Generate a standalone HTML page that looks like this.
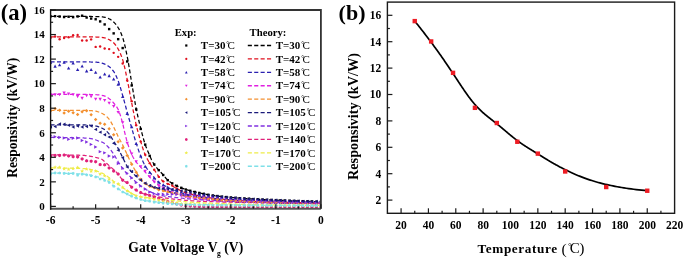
<!DOCTYPE html>
<html><head><meta charset="utf-8"><style>
html,body{margin:0;padding:0;background:#fff;width:685px;height:259px;overflow:hidden}
svg{display:block;filter:blur(0.35px)}
text{font-family:"Liberation Serif",serif}
</style></head><body>
<svg width="685" height="259" viewBox="0 0 685 259">
<rect width="685" height="259" fill="#fff"/>
<defs><clipPath id="ca"><rect x="50.6" y="10.0" width="270.29999999999995" height="198.8"/></clipPath></defs>
<g clip-path="url(#ca)">
<polyline points="50.60,16.38 51.28,16.38 51.95,16.38 52.63,16.38 53.31,16.38 53.99,16.38 54.66,16.38 55.34,16.38 56.02,16.38 56.70,16.38 57.37,16.38 58.05,16.38 58.73,16.38 59.41,16.38 60.08,16.38 60.76,16.38 61.44,16.38 62.12,16.38 62.79,16.38 63.47,16.38 64.15,16.38 64.83,16.38 65.50,16.38 66.18,16.38 66.86,16.38 67.54,16.38 68.21,16.38 68.89,16.38 69.57,16.38 70.25,16.38 70.92,16.38 71.60,16.38 72.28,16.38 72.96,16.38 73.63,16.38 74.31,16.38 74.99,16.38 75.67,16.38 76.34,16.38 77.02,16.38 77.70,16.38 78.38,16.38 79.05,16.38 79.73,16.38 80.41,16.38 81.08,16.38 81.76,16.38 82.44,16.38 83.12,16.38 83.79,16.38 84.47,16.38 85.15,16.38 85.83,16.38 86.50,16.38 87.18,16.38 87.86,16.39 88.54,16.40 89.21,16.42 89.89,16.44 90.57,16.46 91.25,16.48 91.92,16.50 92.60,16.53 93.28,16.55 93.96,16.58 94.63,16.60 95.31,16.62 95.99,16.64 96.67,16.65 97.34,16.67 98.02,16.68 98.70,16.70 99.38,16.72 100.05,16.75 100.73,16.78 101.41,16.83 102.09,16.89 102.76,16.97 103.44,17.06 104.12,17.16 104.80,17.27 105.47,17.41 106.15,17.61 106.83,17.84 107.51,18.10 108.18,18.39 108.86,18.70 109.54,19.02 110.22,19.40 110.89,19.83 111.57,20.30 112.25,20.82 112.92,21.38 113.60,21.97 114.28,22.61 114.96,23.32 115.63,24.11 116.31,24.96 116.99,25.89 117.67,26.88 118.34,27.95 119.02,29.12 119.70,30.40 120.38,31.82 121.05,33.36 121.73,35.03 122.41,36.85 123.09,38.85 123.76,41.17 124.44,43.78 125.12,46.63 125.80,49.67 126.47,52.84 127.15,56.11 127.83,59.60 128.51,63.43 129.18,67.50 129.86,71.71 130.54,75.95 131.22,80.11 131.89,84.10 132.57,88.09 133.25,92.12 133.93,96.12 134.60,100.03 135.28,103.81 135.96,107.38 136.64,110.72 137.31,113.92 137.99,117.00 138.67,119.97 139.35,122.84 140.02,125.62 140.70,128.33 141.38,131.00 142.05,133.63 142.73,136.20 143.41,138.67 144.09,141.02 144.76,143.21 145.44,145.22 146.12,147.07 146.80,148.79 147.47,150.43 148.15,152.01 148.83,153.56 149.51,155.11 150.18,156.70 150.86,158.32 151.54,159.86 152.22,161.24 152.89,162.42 153.57,163.51 154.25,164.53 154.93,165.50 155.60,166.41 156.28,167.29 156.96,168.12 157.64,168.93 158.31,169.72 158.99,170.49 159.67,171.20 160.35,171.87 161.02,172.54 161.70,173.24 162.38,174.00 163.06,174.80 163.73,175.62 164.41,176.44 165.09,177.24 165.77,178.01 166.44,178.73 167.12,179.37 167.80,179.98 168.48,180.55 169.15,181.11 169.83,181.64 170.51,182.15 171.18,182.64 171.86,183.10 172.54,183.54 173.22,183.96 173.89,184.36 174.57,184.73 175.25,185.10 175.93,185.44 176.60,185.78 177.28,186.10 177.96,186.41 178.64,186.71 179.31,187.01 179.99,187.30 180.67,187.58 181.35,187.85 182.02,188.12 182.70,188.38 183.38,188.63 184.06,188.87 184.73,189.10 185.41,189.32 186.09,189.53 186.77,189.73 187.44,189.94 188.12,190.14 188.80,190.33 189.48,190.52 190.15,190.71 190.83,190.89 191.51,191.07 192.19,191.25 192.86,191.42 193.54,191.59 194.22,191.75 194.90,191.92 195.57,192.08 196.25,192.23 196.93,192.39 197.61,192.54 198.28,192.69 198.96,192.83 199.64,192.98 200.32,193.12 200.99,193.26 201.67,193.40 202.35,193.54 203.02,193.68 203.70,193.82 204.38,193.96 205.06,194.09 205.73,194.23 206.41,194.36 207.09,194.49 207.77,194.61 208.44,194.74 209.12,194.86 209.80,194.98 210.48,195.10 211.15,195.21 211.83,195.32 212.51,195.43 213.19,195.54 213.86,195.64 214.54,195.73 215.22,195.83 215.90,195.92 216.57,196.00 217.25,196.09 217.93,196.16 218.61,196.24 219.28,196.32 219.96,196.39 220.64,196.47 221.32,196.54 221.99,196.61 222.67,196.68 223.35,196.75 224.03,196.82 224.70,196.89 225.38,196.95 226.06,197.02 226.74,197.08 227.41,197.15 228.09,197.21 228.77,197.27 229.45,197.33 230.12,197.39 230.80,197.45 231.48,197.51 232.15,197.57 232.83,197.62 233.51,197.68 234.19,197.73 234.86,197.79 235.54,197.84 236.22,197.89 236.90,197.94 237.57,198.00 238.25,198.05 238.93,198.10 239.61,198.15 240.28,198.19 240.96,198.24 241.64,198.29 242.32,198.34 242.99,198.38 243.67,198.43 244.35,198.47 245.03,198.52 245.70,198.56 246.38,198.61 247.06,198.65 247.74,198.69 248.41,198.74 249.09,198.78 249.77,198.82 250.45,198.86 251.12,198.90 251.80,198.94 252.48,198.98 253.16,199.02 253.83,199.06 254.51,199.10 255.19,199.14 255.87,199.18 256.54,199.22 257.22,199.26 257.90,199.29 258.58,199.33 259.25,199.37 259.93,199.40 260.61,199.44 261.28,199.47 261.96,199.51 262.64,199.54 263.32,199.58 263.99,199.61 264.67,199.64 265.35,199.67 266.03,199.71 266.70,199.74 267.38,199.77 268.06,199.80 268.74,199.83 269.41,199.86 270.09,199.89 270.77,199.92 271.45,199.95 272.12,199.98 272.80,200.01 273.48,200.04 274.16,200.07 274.83,200.10 275.51,200.13 276.19,200.16 276.87,200.19 277.54,200.21 278.22,200.24 278.90,200.27 279.58,200.30 280.25,200.32 280.93,200.35 281.61,200.38 282.29,200.41 282.96,200.43 283.64,200.46 284.32,200.49 285.00,200.51 285.67,200.54 286.35,200.57 287.03,200.59 287.71,200.62 288.38,200.65 289.06,200.67 289.74,200.70 290.42,200.72 291.09,200.75 291.77,200.78 292.45,200.80 293.12,200.83 293.80,200.85 294.48,200.88 295.16,200.90 295.83,200.93 296.51,200.95 297.19,200.98 297.87,201.00 298.54,201.02 299.22,201.05 299.90,201.07 300.58,201.10 301.25,201.12 301.93,201.14 302.61,201.17 303.29,201.19 303.96,201.21 304.64,201.24 305.32,201.26 306.00,201.28 306.67,201.30 307.35,201.33 308.03,201.35 308.71,201.37 309.38,201.39 310.06,201.41 310.74,201.44 311.42,201.46 312.09,201.48 312.77,201.50 313.45,201.52 314.13,201.54 314.80,201.56 315.48,201.58 316.16,201.60 316.84,201.62 317.51,201.64 318.19,201.66 318.87,201.68 319.55,201.70 320.22,201.72 320.90,201.74" fill="none" stroke="#000000" stroke-width="1.25" stroke-dasharray="4 2.4"/>
<polyline points="50.60,36.76 51.28,36.76 51.95,36.76 52.63,36.76 53.31,36.76 53.99,36.76 54.66,36.76 55.34,36.76 56.02,36.76 56.70,36.76 57.37,36.76 58.05,36.76 58.73,36.76 59.41,36.76 60.08,36.76 60.76,36.76 61.44,36.76 62.12,36.76 62.79,36.76 63.47,36.76 64.15,36.76 64.83,36.76 65.50,36.76 66.18,36.76 66.86,36.76 67.54,36.76 68.21,36.76 68.89,36.76 69.57,36.76 70.25,36.76 70.92,36.76 71.60,36.76 72.28,36.76 72.96,36.76 73.63,36.76 74.31,36.76 74.99,36.76 75.67,36.76 76.34,36.76 77.02,36.76 77.70,36.76 78.38,36.76 79.05,36.76 79.73,36.76 80.41,36.76 81.08,36.76 81.76,36.76 82.44,36.76 83.12,36.76 83.79,36.76 84.47,36.76 85.15,36.76 85.83,36.76 86.50,36.76 87.18,36.76 87.86,36.77 88.54,36.78 89.21,36.79 89.89,36.80 90.57,36.82 91.25,36.84 91.92,36.87 92.60,36.89 93.28,36.91 93.96,36.94 94.63,36.97 95.31,36.99 95.99,37.02 96.67,37.05 97.34,37.08 98.02,37.11 98.70,37.15 99.38,37.19 100.05,37.24 100.73,37.30 101.41,37.37 102.09,37.44 102.76,37.54 103.44,37.64 104.12,37.76 104.80,37.89 105.47,38.07 106.15,38.30 106.83,38.57 107.51,38.88 108.18,39.20 108.86,39.55 109.54,39.90 110.22,40.29 110.89,40.71 111.57,41.18 112.25,41.68 112.92,42.23 113.60,42.83 114.28,43.50 114.96,44.27 115.63,45.12 116.31,46.06 116.99,47.08 117.67,48.17 118.34,49.33 119.02,50.61 119.70,52.01 120.38,53.55 121.05,55.23 121.73,57.05 122.41,59.01 123.09,61.16 123.76,63.67 124.44,66.48 125.12,69.52 125.80,72.70 126.47,75.95 127.15,79.19 127.83,82.50 128.51,85.99 129.18,89.60 129.86,93.26 130.54,96.92 131.22,100.49 131.89,103.95 132.57,107.39 133.25,110.84 133.93,114.24 134.60,117.56 135.28,120.75 135.96,123.77 136.64,126.59 137.31,129.28 137.99,131.86 138.67,134.35 139.35,136.75 140.02,139.08 140.70,141.34 141.38,143.59 142.05,145.81 142.73,147.99 143.41,150.07 144.09,152.02 144.76,153.80 145.44,155.37 146.12,156.80 146.80,158.12 147.47,159.35 148.15,160.51 148.83,161.63 149.51,162.74 150.18,163.83 150.86,164.86 151.54,165.86 152.22,166.83 152.89,167.79 153.57,168.76 154.25,169.75 154.93,170.78 155.60,171.84 156.28,172.91 156.96,173.96 157.64,174.97 158.31,175.92 158.99,176.79 159.67,177.64 160.35,178.48 161.02,179.27 161.70,180.01 162.38,180.67 163.06,181.24 163.73,181.71 164.41,182.13 165.09,182.51 165.77,182.86 166.44,183.18 167.12,183.49 167.80,183.78 168.48,184.07 169.15,184.36 169.83,184.66 170.51,184.97 171.18,185.31 171.86,185.68 172.54,186.07 173.22,186.49 173.89,186.91 174.57,187.34 175.25,187.75 175.93,188.15 176.60,188.53 177.28,188.88 177.96,189.23 178.64,189.58 179.31,189.92 179.99,190.25 180.67,190.58 181.35,190.89 182.02,191.20 182.70,191.50 183.38,191.78 184.06,192.05 184.73,192.30 185.41,192.54 186.09,192.76 186.77,192.97 187.44,193.18 188.12,193.38 188.80,193.57 189.48,193.76 190.15,193.94 190.83,194.12 191.51,194.29 192.19,194.45 192.86,194.61 193.54,194.77 194.22,194.92 194.90,195.07 195.57,195.22 196.25,195.36 196.93,195.50 197.61,195.64 198.28,195.77 198.96,195.91 199.64,196.04 200.32,196.17 200.99,196.30 201.67,196.42 202.35,196.55 203.02,196.68 203.70,196.80 204.38,196.92 205.06,197.04 205.73,197.16 206.41,197.28 207.09,197.39 207.77,197.51 208.44,197.62 209.12,197.72 209.80,197.83 210.48,197.93 211.15,198.03 211.83,198.13 212.51,198.22 213.19,198.31 213.86,198.40 214.54,198.49 215.22,198.57 215.90,198.64 216.57,198.72 217.25,198.79 217.93,198.85 218.61,198.92 219.28,198.98 219.96,199.05 220.64,199.11 221.32,199.18 221.99,199.24 222.67,199.30 223.35,199.36 224.03,199.42 224.70,199.48 225.38,199.54 226.06,199.60 226.74,199.65 227.41,199.71 228.09,199.77 228.77,199.82 229.45,199.87 230.12,199.93 230.80,199.98 231.48,200.03 232.15,200.08 232.83,200.13 233.51,200.18 234.19,200.23 234.86,200.28 235.54,200.32 236.22,200.37 236.90,200.41 237.57,200.46 238.25,200.50 238.93,200.54 239.61,200.59 240.28,200.63 240.96,200.67 241.64,200.71 242.32,200.74 242.99,200.78 243.67,200.82 244.35,200.85 245.03,200.89 245.70,200.92 246.38,200.96 247.06,200.99 247.74,201.02 248.41,201.05 249.09,201.08 249.77,201.11 250.45,201.14 251.12,201.16 251.80,201.19 252.48,201.21 253.16,201.24 253.83,201.26 254.51,201.29 255.19,201.31 255.87,201.33 256.54,201.36 257.22,201.38 257.90,201.40 258.58,201.43 259.25,201.45 259.93,201.47 260.61,201.49 261.28,201.52 261.96,201.54 262.64,201.56 263.32,201.58 263.99,201.61 264.67,201.63 265.35,201.65 266.03,201.67 266.70,201.69 267.38,201.72 268.06,201.74 268.74,201.76 269.41,201.78 270.09,201.80 270.77,201.82 271.45,201.84 272.12,201.86 272.80,201.88 273.48,201.91 274.16,201.93 274.83,201.95 275.51,201.97 276.19,201.99 276.87,202.00 277.54,202.02 278.22,202.04 278.90,202.06 279.58,202.08 280.25,202.10 280.93,202.12 281.61,202.14 282.29,202.15 282.96,202.17 283.64,202.19 284.32,202.21 285.00,202.22 285.67,202.24 286.35,202.26 287.03,202.27 287.71,202.29 288.38,202.31 289.06,202.32 289.74,202.34 290.42,202.35 291.09,202.37 291.77,202.38 292.45,202.40 293.12,202.41 293.80,202.42 294.48,202.44 295.16,202.45 295.83,202.46 296.51,202.48 297.19,202.49 297.87,202.50 298.54,202.51 299.22,202.52 299.90,202.54 300.58,202.55 301.25,202.56 301.93,202.57 302.61,202.58 303.29,202.59 303.96,202.60 304.64,202.61 305.32,202.62 306.00,202.62 306.67,202.63 307.35,202.64 308.03,202.65 308.71,202.65 309.38,202.66 310.06,202.67 310.74,202.67 311.42,202.68 312.09,202.68 312.77,202.69 313.45,202.69 314.13,202.70 314.80,202.70 315.48,202.70 316.16,202.71 316.84,202.71 317.51,202.71 318.19,202.71 318.87,202.72 319.55,202.72 320.22,202.72 320.90,202.72" fill="none" stroke="#e0101e" stroke-width="1.25" stroke-dasharray="4 2.4"/>
<polyline points="50.60,61.80 51.28,61.80 51.95,61.80 52.63,61.80 53.31,61.80 53.99,61.80 54.66,61.80 55.34,61.80 56.02,61.80 56.70,61.80 57.37,61.80 58.05,61.80 58.73,61.80 59.41,61.80 60.08,61.80 60.76,61.80 61.44,61.80 62.12,61.80 62.79,61.80 63.47,61.80 64.15,61.80 64.83,61.80 65.50,61.80 66.18,61.80 66.86,61.80 67.54,61.80 68.21,61.80 68.89,61.80 69.57,61.80 70.25,61.80 70.92,61.80 71.60,61.80 72.28,61.80 72.96,61.80 73.63,61.80 74.31,61.80 74.99,61.80 75.67,61.80 76.34,61.80 77.02,61.80 77.70,61.80 78.38,61.80 79.05,61.81 79.73,61.81 80.41,61.82 81.08,61.83 81.76,61.84 82.44,61.85 83.12,61.86 83.79,61.87 84.47,61.88 85.15,61.90 85.83,61.91 86.50,61.92 87.18,61.93 87.86,61.95 88.54,61.96 89.21,61.97 89.89,61.99 90.57,62.00 91.25,62.02 91.92,62.03 92.60,62.05 93.28,62.07 93.96,62.10 94.63,62.12 95.31,62.15 95.99,62.19 96.67,62.23 97.34,62.29 98.02,62.36 98.70,62.44 99.38,62.54 100.05,62.64 100.73,62.77 101.41,62.94 102.09,63.15 102.76,63.38 103.44,63.64 104.12,63.91 104.80,64.19 105.47,64.49 106.15,64.82 106.83,65.19 107.51,65.59 108.18,66.02 108.86,66.49 109.54,67.00 110.22,67.57 110.89,68.20 111.57,68.89 112.25,69.66 112.92,70.50 113.60,71.40 114.28,72.42 114.96,73.60 115.63,74.93 116.31,76.37 116.99,77.92 117.67,79.55 118.34,81.26 119.02,83.16 119.70,85.26 120.38,87.50 121.05,89.84 121.73,92.23 122.41,94.61 123.09,96.98 123.76,99.43 124.44,101.93 125.12,104.47 125.80,107.01 126.47,109.53 127.15,112.01 127.83,114.43 128.51,116.84 129.18,119.24 129.86,121.61 130.54,123.98 131.22,126.33 131.89,128.66 132.57,131.02 133.25,133.37 133.93,135.71 134.60,138.02 135.28,140.27 135.96,142.44 136.64,144.54 137.31,146.61 137.99,148.64 138.67,150.61 139.35,152.52 140.02,154.34 140.70,156.07 141.38,157.74 142.05,159.36 142.73,160.94 143.41,162.43 144.09,163.84 144.76,165.12 145.44,166.28 146.12,167.33 146.80,168.30 147.47,169.20 148.15,170.07 148.83,170.91 149.51,171.77 150.18,172.64 150.86,173.50 151.54,174.35 152.22,175.18 152.89,176.00 153.57,176.80 154.25,177.59 154.93,178.40 155.60,179.22 156.28,180.03 156.96,180.80 157.64,181.52 158.31,182.14 158.99,182.66 159.67,183.10 160.35,183.50 161.02,183.86 161.70,184.19 162.38,184.52 163.06,184.85 163.73,185.20 164.41,185.56 165.09,185.94 165.77,186.32 166.44,186.70 167.12,187.08 167.80,187.45 168.48,187.81 169.15,188.15 169.83,188.47 170.51,188.77 171.18,189.05 171.86,189.33 172.54,189.59 173.22,189.84 173.89,190.08 174.57,190.32 175.25,190.56 175.93,190.80 176.60,191.05 177.28,191.29 177.96,191.54 178.64,191.79 179.31,192.04 179.99,192.28 180.67,192.53 181.35,192.77 182.02,193.00 182.70,193.23 183.38,193.44 184.06,193.65 184.73,193.85 185.41,194.04 186.09,194.21 186.77,194.38 187.44,194.54 188.12,194.70 188.80,194.85 189.48,195.00 190.15,195.14 190.83,195.28 191.51,195.42 192.19,195.55 192.86,195.68 193.54,195.81 194.22,195.94 194.90,196.06 195.57,196.18 196.25,196.30 196.93,196.42 197.61,196.54 198.28,196.66 198.96,196.77 199.64,196.89 200.32,197.01 200.99,197.13 201.67,197.24 202.35,197.36 203.02,197.48 203.70,197.60 204.38,197.72 205.06,197.84 205.73,197.95 206.41,198.07 207.09,198.18 207.77,198.29 208.44,198.40 209.12,198.51 209.80,198.61 210.48,198.71 211.15,198.81 211.83,198.91 212.51,199.00 213.19,199.09 213.86,199.17 214.54,199.25 215.22,199.33 215.90,199.40 216.57,199.46 217.25,199.52 217.93,199.58 218.61,199.64 219.28,199.69 219.96,199.74 220.64,199.80 221.32,199.85 221.99,199.90 222.67,199.95 223.35,200.00 224.03,200.05 224.70,200.10 225.38,200.14 226.06,200.19 226.74,200.23 227.41,200.28 228.09,200.32 228.77,200.37 229.45,200.41 230.12,200.45 230.80,200.49 231.48,200.53 232.15,200.57 232.83,200.61 233.51,200.64 234.19,200.68 234.86,200.72 235.54,200.75 236.22,200.79 236.90,200.82 237.57,200.86 238.25,200.89 238.93,200.92 239.61,200.95 240.28,200.99 240.96,201.02 241.64,201.05 242.32,201.08 242.99,201.11 243.67,201.13 244.35,201.16 245.03,201.19 245.70,201.22 246.38,201.24 247.06,201.27 247.74,201.29 248.41,201.32 249.09,201.34 249.77,201.37 250.45,201.39 251.12,201.42 251.80,201.44 252.48,201.46 253.16,201.48 253.83,201.51 254.51,201.53 255.19,201.55 255.87,201.57 256.54,201.59 257.22,201.62 257.90,201.64 258.58,201.66 259.25,201.68 259.93,201.70 260.61,201.73 261.28,201.75 261.96,201.77 262.64,201.79 263.32,201.81 263.99,201.83 264.67,201.86 265.35,201.88 266.03,201.90 266.70,201.92 267.38,201.94 268.06,201.96 268.74,201.98 269.41,202.00 270.09,202.02 270.77,202.04 271.45,202.07 272.12,202.09 272.80,202.11 273.48,202.13 274.16,202.15 274.83,202.17 275.51,202.19 276.19,202.21 276.87,202.22 277.54,202.24 278.22,202.26 278.90,202.28 279.58,202.30 280.25,202.32 280.93,202.34 281.61,202.36 282.29,202.37 282.96,202.39 283.64,202.41 284.32,202.43 285.00,202.44 285.67,202.46 286.35,202.48 287.03,202.50 287.71,202.51 288.38,202.53 289.06,202.54 289.74,202.56 290.42,202.58 291.09,202.59 291.77,202.61 292.45,202.62 293.12,202.64 293.80,202.65 294.48,202.66 295.16,202.68 295.83,202.69 296.51,202.70 297.19,202.72 297.87,202.73 298.54,202.74 299.22,202.75 299.90,202.77 300.58,202.78 301.25,202.79 301.93,202.80 302.61,202.81 303.29,202.82 303.96,202.83 304.64,202.84 305.32,202.85 306.00,202.86 306.67,202.87 307.35,202.88 308.03,202.88 308.71,202.89 309.38,202.90 310.06,202.91 310.74,202.91 311.42,202.92 312.09,202.92 312.77,202.93 313.45,202.93 314.13,202.94 314.80,202.94 315.48,202.95 316.16,202.95 316.84,202.95 317.51,202.96 318.19,202.96 318.87,202.96 319.55,202.96 320.22,202.96 320.90,202.96" fill="none" stroke="#2a20b0" stroke-width="1.25" stroke-dasharray="4 2.4"/>
<polyline points="50.60,94.45 51.28,94.45 51.95,94.45 52.63,94.45 53.31,94.45 53.99,94.45 54.66,94.45 55.34,94.45 56.02,94.45 56.70,94.45 57.37,94.45 58.05,94.45 58.73,94.45 59.41,94.45 60.08,94.45 60.76,94.45 61.44,94.45 62.12,94.45 62.79,94.45 63.47,94.45 64.15,94.45 64.83,94.45 65.50,94.45 66.18,94.45 66.86,94.45 67.54,94.45 68.21,94.45 68.89,94.45 69.57,94.45 70.25,94.45 70.92,94.45 71.60,94.45 72.28,94.45 72.96,94.45 73.63,94.45 74.31,94.45 74.99,94.45 75.67,94.45 76.34,94.45 77.02,94.45 77.70,94.45 78.38,94.45 79.05,94.45 79.73,94.45 80.41,94.45 81.08,94.45 81.76,94.45 82.44,94.45 83.12,94.45 83.79,94.45 84.47,94.45 85.15,94.45 85.83,94.45 86.50,94.45 87.18,94.45 87.86,94.46 88.54,94.47 89.21,94.48 89.89,94.49 90.57,94.51 91.25,94.53 91.92,94.55 92.60,94.57 93.28,94.60 93.96,94.63 94.63,94.65 95.31,94.68 95.99,94.71 96.67,94.75 97.34,94.80 98.02,94.85 98.70,94.91 99.38,94.98 100.05,95.05 100.73,95.14 101.41,95.25 102.09,95.38 102.76,95.53 103.44,95.69 104.12,95.88 104.80,96.09 105.47,96.35 106.15,96.68 106.83,97.06 107.51,97.48 108.18,97.93 108.86,98.41 109.54,98.91 110.22,99.46 110.89,100.08 111.57,100.74 112.25,101.45 112.92,102.19 113.60,102.97 114.28,103.75 114.96,104.56 115.63,105.42 116.31,106.34 116.99,107.36 117.67,108.49 118.34,109.77 119.02,111.40 119.70,113.34 120.38,115.41 121.05,117.59 121.73,119.96 122.41,122.49 123.09,125.21 123.76,128.22 124.44,131.27 125.12,134.12 125.80,136.84 126.47,139.44 127.15,141.84 127.83,144.04 128.51,146.11 129.18,148.05 129.86,149.86 130.54,151.60 131.22,153.25 131.89,154.80 132.57,156.22 133.25,157.47 133.93,158.63 134.60,159.70 135.28,160.70 135.96,161.65 136.64,162.54 137.31,163.37 137.99,164.15 138.67,164.91 139.35,165.64 140.02,166.37 140.70,167.12 141.38,167.87 142.05,168.61 142.73,169.34 143.41,170.07 144.09,170.80 144.76,171.54 145.44,172.30 146.12,173.07 146.80,173.87 147.47,174.66 148.15,175.45 148.83,176.22 149.51,176.97 150.18,177.68 150.86,178.38 151.54,179.07 152.22,179.74 152.89,180.39 153.57,181.02 154.25,181.63 154.93,182.23 155.60,182.81 156.28,183.38 156.96,183.93 157.64,184.46 158.31,184.98 158.99,185.49 159.67,185.99 160.35,186.48 161.02,186.95 161.70,187.41 162.38,187.85 163.06,188.26 163.73,188.64 164.41,189.02 165.09,189.39 165.77,189.75 166.44,190.10 167.12,190.44 167.80,190.77 168.48,191.09 169.15,191.39 169.83,191.69 170.51,191.98 171.18,192.25 171.86,192.51 172.54,192.76 173.22,193.01 173.89,193.25 174.57,193.48 175.25,193.71 175.93,193.93 176.60,194.15 177.28,194.37 177.96,194.57 178.64,194.78 179.31,194.98 179.99,195.17 180.67,195.36 181.35,195.54 182.02,195.71 182.70,195.88 183.38,196.05 184.06,196.21 184.73,196.36 185.41,196.51 186.09,196.65 186.77,196.79 187.44,196.92 188.12,197.06 188.80,197.18 189.48,197.31 190.15,197.43 190.83,197.55 191.51,197.67 192.19,197.78 192.86,197.89 193.54,198.00 194.22,198.10 194.90,198.20 195.57,198.30 196.25,198.40 196.93,198.49 197.61,198.58 198.28,198.67 198.96,198.75 199.64,198.83 200.32,198.92 200.99,199.00 201.67,199.08 202.35,199.16 203.02,199.23 203.70,199.31 204.38,199.38 205.06,199.46 205.73,199.53 206.41,199.60 207.09,199.67 207.77,199.74 208.44,199.81 209.12,199.87 209.80,199.93 210.48,199.99 211.15,200.05 211.83,200.11 212.51,200.17 213.19,200.22 213.86,200.28 214.54,200.33 215.22,200.37 215.90,200.42 216.57,200.46 217.25,200.51 217.93,200.55 218.61,200.59 219.28,200.63 219.96,200.66 220.64,200.70 221.32,200.74 221.99,200.78 222.67,200.81 223.35,200.85 224.03,200.88 224.70,200.92 225.38,200.95 226.06,200.99 226.74,201.02 227.41,201.05 228.09,201.08 228.77,201.12 229.45,201.15 230.12,201.18 230.80,201.21 231.48,201.24 232.15,201.27 232.83,201.30 233.51,201.32 234.19,201.35 234.86,201.38 235.54,201.41 236.22,201.43 236.90,201.46 237.57,201.48 238.25,201.51 238.93,201.53 239.61,201.56 240.28,201.58 240.96,201.61 241.64,201.63 242.32,201.65 242.99,201.68 243.67,201.70 244.35,201.72 245.03,201.74 245.70,201.76 246.38,201.78 247.06,201.80 247.74,201.83 248.41,201.85 249.09,201.86 249.77,201.88 250.45,201.90 251.12,201.92 251.80,201.94 252.48,201.96 253.16,201.98 253.83,201.99 254.51,202.01 255.19,202.03 255.87,202.05 256.54,202.06 257.22,202.08 257.90,202.10 258.58,202.12 259.25,202.14 259.93,202.15 260.61,202.17 261.28,202.19 261.96,202.20 262.64,202.22 263.32,202.24 263.99,202.26 264.67,202.27 265.35,202.29 266.03,202.31 266.70,202.32 267.38,202.34 268.06,202.36 268.74,202.37 269.41,202.39 270.09,202.41 270.77,202.42 271.45,202.44 272.12,202.46 272.80,202.47 273.48,202.49 274.16,202.51 274.83,202.52 275.51,202.54 276.19,202.55 276.87,202.57 277.54,202.58 278.22,202.60 278.90,202.61 279.58,202.63 280.25,202.64 280.93,202.66 281.61,202.67 282.29,202.69 282.96,202.70 283.64,202.72 284.32,202.73 285.00,202.74 285.67,202.76 286.35,202.77 287.03,202.79 287.71,202.80 288.38,202.81 289.06,202.83 289.74,202.84 290.42,202.85 291.09,202.86 291.77,202.88 292.45,202.89 293.12,202.90 293.80,202.91 294.48,202.92 295.16,202.94 295.83,202.95 296.51,202.96 297.19,202.97 297.87,202.98 298.54,202.99 299.22,203.00 299.90,203.01 300.58,203.02 301.25,203.03 301.93,203.04 302.61,203.05 303.29,203.06 303.96,203.07 304.64,203.08 305.32,203.08 306.00,203.09 306.67,203.10 307.35,203.11 308.03,203.12 308.71,203.12 309.38,203.13 310.06,203.14 310.74,203.14 311.42,203.15 312.09,203.16 312.77,203.16 313.45,203.17 314.13,203.17 314.80,203.18 315.48,203.18 316.16,203.19 316.84,203.19 317.51,203.19 318.19,203.20 318.87,203.20 319.55,203.20 320.22,203.21 320.90,203.21" fill="none" stroke="#e020e0" stroke-width="1.25" stroke-dasharray="4 2.4"/>
<polyline points="50.60,110.29 51.28,110.29 51.95,110.29 52.63,110.29 53.31,110.29 53.99,110.29 54.66,110.29 55.34,110.29 56.02,110.29 56.70,110.29 57.37,110.29 58.05,110.29 58.73,110.29 59.41,110.29 60.08,110.29 60.76,110.29 61.44,110.29 62.12,110.29 62.79,110.29 63.47,110.29 64.15,110.29 64.83,110.29 65.50,110.29 66.18,110.29 66.86,110.29 67.54,110.29 68.21,110.29 68.89,110.29 69.57,110.29 70.25,110.29 70.92,110.29 71.60,110.29 72.28,110.29 72.96,110.29 73.63,110.29 74.31,110.29 74.99,110.29 75.67,110.29 76.34,110.29 77.02,110.29 77.70,110.29 78.38,110.29 79.05,110.29 79.73,110.29 80.41,110.30 81.08,110.31 81.76,110.32 82.44,110.33 83.12,110.34 83.79,110.35 84.47,110.36 85.15,110.38 85.83,110.39 86.50,110.41 87.18,110.42 87.86,110.45 88.54,110.48 89.21,110.51 89.89,110.55 90.57,110.60 91.25,110.65 91.92,110.71 92.60,110.78 93.28,110.85 93.96,110.93 94.63,111.01 95.31,111.10 95.99,111.20 96.67,111.35 97.34,111.55 98.02,111.78 98.70,112.03 99.38,112.30 100.05,112.58 100.73,112.86 101.41,113.15 102.09,113.47 102.76,113.82 103.44,114.19 104.12,114.60 104.80,115.04 105.47,115.54 106.15,116.09 106.83,116.70 107.51,117.37 108.18,118.10 108.86,118.88 109.54,119.73 110.22,120.73 110.89,121.86 111.57,123.08 112.25,124.36 112.92,125.67 113.60,126.97 114.28,128.30 114.96,129.71 115.63,131.16 116.31,132.63 116.99,134.10 117.67,135.53 118.34,136.89 119.02,138.19 119.70,139.45 120.38,140.69 121.05,141.93 121.73,143.19 122.41,144.49 123.09,145.85 123.76,147.25 124.44,148.69 125.12,150.15 125.80,151.62 126.47,153.08 127.15,154.53 127.83,155.97 128.51,157.43 129.18,158.89 129.86,160.33 130.54,161.75 131.22,163.12 131.89,164.44 132.57,165.72 133.25,166.96 133.93,168.18 134.60,169.36 135.28,170.52 135.96,171.64 136.64,172.74 137.31,173.84 137.99,174.91 138.67,175.95 139.35,176.96 140.02,177.90 140.70,178.78 141.38,179.62 142.05,180.43 142.73,181.21 143.41,181.95 144.09,182.62 144.76,183.22 145.44,183.74 146.12,184.21 146.80,184.63 147.47,185.02 148.15,185.38 148.83,185.72 149.51,186.05 150.18,186.37 150.86,186.67 151.54,186.95 152.22,187.23 152.89,187.49 153.57,187.75 154.25,188.00 154.93,188.25 155.60,188.49 156.28,188.73 156.96,188.96 157.64,189.19 158.31,189.41 158.99,189.63 159.67,189.83 160.35,190.03 161.02,190.22 161.70,190.41 162.38,190.59 163.06,190.76 163.73,190.93 164.41,191.10 165.09,191.27 165.77,191.43 166.44,191.60 167.12,191.76 167.80,191.93 168.48,192.10 169.15,192.28 169.83,192.45 170.51,192.62 171.18,192.80 171.86,192.97 172.54,193.14 173.22,193.31 173.89,193.47 174.57,193.63 175.25,193.79 175.93,193.95 176.60,194.10 177.28,194.24 177.96,194.38 178.64,194.53 179.31,194.67 179.99,194.80 180.67,194.94 181.35,195.07 182.02,195.20 182.70,195.33 183.38,195.45 184.06,195.57 184.73,195.68 185.41,195.79 186.09,195.90 186.77,196.00 187.44,196.10 188.12,196.19 188.80,196.29 189.48,196.38 190.15,196.47 190.83,196.56 191.51,196.64 192.19,196.73 192.86,196.81 193.54,196.89 194.22,196.97 194.90,197.05 195.57,197.13 196.25,197.21 196.93,197.29 197.61,197.37 198.28,197.45 198.96,197.53 199.64,197.61 200.32,197.69 200.99,197.77 201.67,197.85 202.35,197.93 203.02,198.01 203.70,198.10 204.38,198.18 205.06,198.26 205.73,198.34 206.41,198.42 207.09,198.50 207.77,198.58 208.44,198.66 209.12,198.74 209.80,198.81 210.48,198.89 211.15,198.96 211.83,199.03 212.51,199.10 213.19,199.17 213.86,199.23 214.54,199.30 215.22,199.36 215.90,199.42 216.57,199.47 217.25,199.52 217.93,199.57 218.61,199.62 219.28,199.67 219.96,199.72 220.64,199.77 221.32,199.82 221.99,199.87 222.67,199.92 223.35,199.96 224.03,200.01 224.70,200.06 225.38,200.10 226.06,200.15 226.74,200.19 227.41,200.24 228.09,200.28 228.77,200.32 229.45,200.37 230.12,200.41 230.80,200.45 231.48,200.49 232.15,200.53 232.83,200.57 233.51,200.61 234.19,200.65 234.86,200.69 235.54,200.72 236.22,200.76 236.90,200.80 237.57,200.83 238.25,200.87 238.93,200.90 239.61,200.94 240.28,200.97 240.96,201.00 241.64,201.03 242.32,201.07 242.99,201.10 243.67,201.13 244.35,201.16 245.03,201.19 245.70,201.21 246.38,201.24 247.06,201.27 247.74,201.30 248.41,201.32 249.09,201.35 249.77,201.37 250.45,201.40 251.12,201.42 251.80,201.44 252.48,201.46 253.16,201.48 253.83,201.51 254.51,201.53 255.19,201.55 255.87,201.57 256.54,201.59 257.22,201.61 257.90,201.63 258.58,201.65 259.25,201.67 259.93,201.69 260.61,201.71 261.28,201.73 261.96,201.75 262.64,201.77 263.32,201.79 263.99,201.81 264.67,201.83 265.35,201.85 266.03,201.87 266.70,201.89 267.38,201.91 268.06,201.93 268.74,201.95 269.41,201.97 270.09,201.99 270.77,202.01 271.45,202.03 272.12,202.05 272.80,202.06 273.48,202.08 274.16,202.10 274.83,202.12 275.51,202.14 276.19,202.16 276.87,202.17 277.54,202.19 278.22,202.21 278.90,202.23 279.58,202.24 280.25,202.26 280.93,202.28 281.61,202.30 282.29,202.31 282.96,202.33 283.64,202.34 284.32,202.36 285.00,202.38 285.67,202.39 286.35,202.41 287.03,202.42 287.71,202.44 288.38,202.45 289.06,202.47 289.74,202.48 290.42,202.50 291.09,202.51 291.77,202.52 292.45,202.54 293.12,202.55 293.80,202.56 294.48,202.58 295.16,202.59 295.83,202.60 296.51,202.61 297.19,202.62 297.87,202.64 298.54,202.65 299.22,202.66 299.90,202.67 300.58,202.68 301.25,202.69 301.93,202.70 302.61,202.71 303.29,202.72 303.96,202.73 304.64,202.73 305.32,202.74 306.00,202.75 306.67,202.76 307.35,202.77 308.03,202.77 308.71,202.78 309.38,202.79 310.06,202.79 310.74,202.80 311.42,202.80 312.09,202.81 312.77,202.81 313.45,202.82 314.13,202.82 314.80,202.82 315.48,202.83 316.16,202.83 316.84,202.83 317.51,202.84 318.19,202.84 318.87,202.84 319.55,202.84 320.22,202.84 320.90,202.84" fill="none" stroke="#f39030" stroke-width="1.25" stroke-dasharray="4 2.4"/>
<polyline points="50.60,124.89 51.28,124.89 51.95,124.89 52.63,124.89 53.31,124.89 53.99,124.89 54.66,124.89 55.34,124.89 56.02,124.89 56.70,124.89 57.37,124.89 58.05,124.89 58.73,124.89 59.41,124.89 60.08,124.89 60.76,124.89 61.44,124.89 62.12,124.89 62.79,124.89 63.47,124.89 64.15,124.89 64.83,124.89 65.50,124.89 66.18,124.89 66.86,124.89 67.54,124.89 68.21,124.89 68.89,124.89 69.57,124.89 70.25,124.89 70.92,124.89 71.60,124.89 72.28,124.89 72.96,124.89 73.63,124.89 74.31,124.89 74.99,124.89 75.67,124.89 76.34,124.89 77.02,124.89 77.70,124.89 78.38,124.90 79.05,124.90 79.73,124.90 80.41,124.91 81.08,124.91 81.76,124.92 82.44,124.93 83.12,124.94 83.79,124.96 84.47,124.97 85.15,124.98 85.83,125.00 86.50,125.01 87.18,125.03 87.86,125.06 88.54,125.10 89.21,125.15 89.89,125.21 90.57,125.28 91.25,125.36 91.92,125.44 92.60,125.53 93.28,125.62 93.96,125.73 94.63,125.83 95.31,125.94 95.99,126.06 96.67,126.21 97.34,126.39 98.02,126.59 98.70,126.82 99.38,127.06 100.05,127.31 100.73,127.58 101.41,127.87 102.09,128.19 102.76,128.54 103.44,128.92 104.12,129.33 104.80,129.77 105.47,130.27 106.15,130.83 106.83,131.45 107.51,132.12 108.18,132.84 108.86,133.61 109.54,134.45 110.22,135.43 110.89,136.53 111.57,137.70 112.25,138.90 112.92,140.09 113.60,141.23 114.28,142.30 114.96,143.34 115.63,144.37 116.31,145.41 116.99,146.47 117.67,147.58 118.34,148.77 119.02,150.04 119.70,151.39 120.38,152.78 121.05,154.20 121.73,155.62 122.41,157.01 123.09,158.36 123.76,159.75 124.44,161.14 125.12,162.52 125.80,163.85 126.47,165.09 127.15,166.21 127.83,167.22 128.51,168.18 129.18,169.07 129.86,169.92 130.54,170.73 131.22,171.51 131.89,172.25 132.57,172.95 133.25,173.62 133.93,174.26 134.60,174.88 135.28,175.49 135.96,176.11 136.64,176.74 137.31,177.39 137.99,178.04 138.67,178.67 139.35,179.29 140.02,179.86 140.70,180.38 141.38,180.85 142.05,181.29 142.73,181.70 143.41,182.09 144.09,182.47 144.76,182.84 145.44,183.20 146.12,183.56 146.80,183.91 147.47,184.25 148.15,184.58 148.83,184.90 149.51,185.20 150.18,185.49 150.86,185.76 151.54,186.03 152.22,186.29 152.89,186.54 153.57,186.78 154.25,187.02 154.93,187.25 155.60,187.48 156.28,187.70 156.96,187.92 157.64,188.14 158.31,188.35 158.99,188.56 159.67,188.77 160.35,188.98 161.02,189.18 161.70,189.38 162.38,189.58 163.06,189.78 163.73,189.98 164.41,190.17 165.09,190.37 165.77,190.56 166.44,190.75 167.12,190.94 167.80,191.12 168.48,191.31 169.15,191.49 169.83,191.67 170.51,191.84 171.18,192.02 171.86,192.19 172.54,192.36 173.22,192.53 173.89,192.70 174.57,192.87 175.25,193.04 175.93,193.21 176.60,193.38 177.28,193.55 177.96,193.72 178.64,193.88 179.31,194.04 179.99,194.20 180.67,194.35 181.35,194.50 182.02,194.65 182.70,194.79 183.38,194.92 184.06,195.06 184.73,195.18 185.41,195.30 186.09,195.41 186.77,195.51 187.44,195.62 188.12,195.72 188.80,195.81 189.48,195.90 190.15,195.99 190.83,196.08 191.51,196.17 192.19,196.25 192.86,196.33 193.54,196.41 194.22,196.49 194.90,196.57 195.57,196.65 196.25,196.72 196.93,196.80 197.61,196.88 198.28,196.96 198.96,197.04 199.64,197.12 200.32,197.20 200.99,197.28 201.67,197.36 202.35,197.45 203.02,197.53 203.70,197.62 204.38,197.71 205.06,197.79 205.73,197.88 206.41,197.97 207.09,198.05 207.77,198.13 208.44,198.21 209.12,198.29 209.80,198.37 210.48,198.45 211.15,198.52 211.83,198.59 212.51,198.66 213.19,198.73 213.86,198.79 214.54,198.85 215.22,198.90 215.90,198.95 216.57,198.99 217.25,199.03 217.93,199.07 218.61,199.11 219.28,199.14 219.96,199.18 220.64,199.21 221.32,199.24 221.99,199.27 222.67,199.30 223.35,199.33 224.03,199.36 224.70,199.39 225.38,199.42 226.06,199.45 226.74,199.47 227.41,199.50 228.09,199.52 228.77,199.55 229.45,199.57 230.12,199.60 230.80,199.62 231.48,199.64 232.15,199.67 232.83,199.69 233.51,199.71 234.19,199.73 234.86,199.75 235.54,199.77 236.22,199.79 236.90,199.81 237.57,199.83 238.25,199.85 238.93,199.87 239.61,199.89 240.28,199.91 240.96,199.92 241.64,199.94 242.32,199.96 242.99,199.98 243.67,200.00 244.35,200.01 245.03,200.03 245.70,200.05 246.38,200.07 247.06,200.09 247.74,200.11 248.41,200.12 249.09,200.14 249.77,200.16 250.45,200.18 251.12,200.20 251.80,200.22 252.48,200.24 253.16,200.26 253.83,200.28 254.51,200.30 255.19,200.32 255.87,200.34 256.54,200.36 257.22,200.38 257.90,200.40 258.58,200.42 259.25,200.44 259.93,200.46 260.61,200.48 261.28,200.50 261.96,200.51 262.64,200.53 263.32,200.55 263.99,200.57 264.67,200.59 265.35,200.61 266.03,200.63 266.70,200.65 267.38,200.67 268.06,200.69 268.74,200.71 269.41,200.73 270.09,200.75 270.77,200.76 271.45,200.78 272.12,200.80 272.80,200.82 273.48,200.84 274.16,200.86 274.83,200.88 275.51,200.90 276.19,200.91 276.87,200.93 277.54,200.95 278.22,200.97 278.90,200.99 279.58,201.01 280.25,201.02 280.93,201.04 281.61,201.06 282.29,201.08 282.96,201.10 283.64,201.11 284.32,201.13 285.00,201.15 285.67,201.17 286.35,201.18 287.03,201.20 287.71,201.22 288.38,201.24 289.06,201.25 289.74,201.27 290.42,201.29 291.09,201.31 291.77,201.32 292.45,201.34 293.12,201.36 293.80,201.37 294.48,201.39 295.16,201.41 295.83,201.42 296.51,201.44 297.19,201.46 297.87,201.47 298.54,201.49 299.22,201.51 299.90,201.52 300.58,201.54 301.25,201.55 301.93,201.57 302.61,201.59 303.29,201.60 303.96,201.62 304.64,201.63 305.32,201.65 306.00,201.66 306.67,201.68 307.35,201.69 308.03,201.71 308.71,201.72 309.38,201.74 310.06,201.75 310.74,201.77 311.42,201.78 312.09,201.80 312.77,201.81 313.45,201.83 314.13,201.84 314.80,201.86 315.48,201.87 316.16,201.88 316.84,201.90 317.51,201.91 318.19,201.93 318.87,201.94 319.55,201.95 320.22,201.97 320.90,201.98" fill="none" stroke="#1a1a7a" stroke-width="1.25" stroke-dasharray="4 2.4"/>
<polyline points="50.60,137.41 51.28,137.41 51.95,137.42 52.63,137.42 53.31,137.42 53.99,137.42 54.66,137.42 55.34,137.43 56.02,137.43 56.70,137.44 57.37,137.44 58.05,137.45 58.73,137.45 59.41,137.46 60.08,137.46 60.76,137.47 61.44,137.48 62.12,137.49 62.79,137.49 63.47,137.50 64.15,137.51 64.83,137.52 65.50,137.53 66.18,137.54 66.86,137.55 67.54,137.57 68.21,137.58 68.89,137.59 69.57,137.60 70.25,137.62 70.92,137.63 71.60,137.64 72.28,137.66 72.96,137.67 73.63,137.69 74.31,137.70 74.99,137.72 75.67,137.73 76.34,137.75 77.02,137.77 77.70,137.78 78.38,137.80 79.05,137.82 79.73,137.84 80.41,137.86 81.08,137.88 81.76,137.89 82.44,137.91 83.12,137.94 83.79,137.97 84.47,138.01 85.15,138.05 85.83,138.09 86.50,138.14 87.18,138.20 87.86,138.25 88.54,138.32 89.21,138.40 89.89,138.49 90.57,138.59 91.25,138.71 91.92,138.84 92.60,138.98 93.28,139.12 93.96,139.28 94.63,139.47 95.31,139.71 95.99,139.97 96.67,140.24 97.34,140.52 98.02,140.80 98.70,141.05 99.38,141.28 100.05,141.49 100.73,141.71 101.41,141.93 102.09,142.19 102.76,142.47 103.44,142.81 104.12,143.26 104.80,143.79 105.47,144.38 106.15,144.99 106.83,145.62 107.51,146.29 108.18,147.00 108.86,147.75 109.54,148.53 110.22,149.34 110.89,150.19 111.57,151.09 112.25,152.04 112.92,153.02 113.60,154.03 114.28,155.06 114.96,156.14 115.63,157.29 116.31,158.48 116.99,159.68 117.67,160.85 118.34,161.98 119.02,163.04 119.70,164.09 120.38,165.12 121.05,166.12 121.73,167.10 122.41,168.05 123.09,168.96 123.76,169.85 124.44,170.73 125.12,171.59 125.80,172.42 126.47,173.21 127.15,173.95 127.83,174.63 128.51,175.25 129.18,175.81 129.86,176.35 130.54,176.87 131.22,177.40 131.89,177.96 132.57,178.56 133.25,179.22 133.93,179.92 134.60,180.64 135.28,181.35 135.96,182.03 136.64,182.66 137.31,183.26 137.99,183.86 138.67,184.44 139.35,185.00 140.02,185.54 140.70,186.07 141.38,186.57 142.05,187.04 142.73,187.49 143.41,187.94 144.09,188.37 144.76,188.78 145.44,189.19 146.12,189.59 146.80,189.97 147.47,190.34 148.15,190.70 148.83,191.05 149.51,191.38 150.18,191.70 150.86,192.02 151.54,192.34 152.22,192.65 152.89,192.96 153.57,193.26 154.25,193.54 154.93,193.82 155.60,194.08 156.28,194.31 156.96,194.53 157.64,194.73 158.31,194.89 158.99,195.05 159.67,195.19 160.35,195.33 161.02,195.46 161.70,195.59 162.38,195.71 163.06,195.82 163.73,195.93 164.41,196.03 165.09,196.13 165.77,196.23 166.44,196.33 167.12,196.42 167.80,196.51 168.48,196.59 169.15,196.68 169.83,196.77 170.51,196.85 171.18,196.94 171.86,197.02 172.54,197.11 173.22,197.20 173.89,197.28 174.57,197.36 175.25,197.44 175.93,197.52 176.60,197.60 177.28,197.68 177.96,197.75 178.64,197.83 179.31,197.90 179.99,197.97 180.67,198.04 181.35,198.11 182.02,198.18 182.70,198.25 183.38,198.32 184.06,198.38 184.73,198.45 185.41,198.51 186.09,198.58 186.77,198.64 187.44,198.70 188.12,198.76 188.80,198.82 189.48,198.88 190.15,198.94 190.83,199.00 191.51,199.05 192.19,199.11 192.86,199.16 193.54,199.22 194.22,199.27 194.90,199.33 195.57,199.38 196.25,199.43 196.93,199.48 197.61,199.53 198.28,199.58 198.96,199.63 199.64,199.68 200.32,199.72 200.99,199.77 201.67,199.82 202.35,199.87 203.02,199.91 203.70,199.96 204.38,200.01 205.06,200.06 205.73,200.10 206.41,200.15 207.09,200.19 207.77,200.24 208.44,200.28 209.12,200.33 209.80,200.37 210.48,200.41 211.15,200.45 211.83,200.49 212.51,200.53 213.19,200.56 213.86,200.60 214.54,200.63 215.22,200.66 215.90,200.70 216.57,200.72 217.25,200.75 217.93,200.78 218.61,200.80 219.28,200.83 219.96,200.86 220.64,200.88 221.32,200.90 221.99,200.93 222.67,200.95 223.35,200.97 224.03,201.00 224.70,201.02 225.38,201.04 226.06,201.06 226.74,201.08 227.41,201.10 228.09,201.12 228.77,201.14 229.45,201.16 230.12,201.18 230.80,201.20 231.48,201.22 232.15,201.24 232.83,201.26 233.51,201.28 234.19,201.29 234.86,201.31 235.54,201.33 236.22,201.34 236.90,201.36 237.57,201.38 238.25,201.39 238.93,201.41 239.61,201.43 240.28,201.44 240.96,201.46 241.64,201.47 242.32,201.49 242.99,201.51 243.67,201.52 244.35,201.54 245.03,201.55 245.70,201.57 246.38,201.58 247.06,201.60 247.74,201.61 248.41,201.63 249.09,201.64 249.77,201.66 250.45,201.67 251.12,201.69 251.80,201.70 252.48,201.72 253.16,201.73 253.83,201.75 254.51,201.76 255.19,201.78 255.87,201.79 256.54,201.81 257.22,201.82 257.90,201.84 258.58,201.85 259.25,201.87 259.93,201.88 260.61,201.90 261.28,201.91 261.96,201.92 262.64,201.94 263.32,201.95 263.99,201.97 264.67,201.98 265.35,202.00 266.03,202.01 266.70,202.03 267.38,202.04 268.06,202.05 268.74,202.07 269.41,202.08 270.09,202.10 270.77,202.11 271.45,202.13 272.12,202.14 272.80,202.15 273.48,202.17 274.16,202.18 274.83,202.19 275.51,202.21 276.19,202.22 276.87,202.24 277.54,202.25 278.22,202.26 278.90,202.28 279.58,202.29 280.25,202.30 280.93,202.32 281.61,202.33 282.29,202.34 282.96,202.36 283.64,202.37 284.32,202.38 285.00,202.39 285.67,202.41 286.35,202.42 287.03,202.43 287.71,202.44 288.38,202.46 289.06,202.47 289.74,202.48 290.42,202.49 291.09,202.51 291.77,202.52 292.45,202.53 293.12,202.54 293.80,202.55 294.48,202.57 295.16,202.58 295.83,202.59 296.51,202.60 297.19,202.61 297.87,202.63 298.54,202.64 299.22,202.65 299.90,202.66 300.58,202.67 301.25,202.68 301.93,202.69 302.61,202.70 303.29,202.71 303.96,202.72 304.64,202.74 305.32,202.75 306.00,202.76 306.67,202.77 307.35,202.78 308.03,202.79 308.71,202.80 309.38,202.81 310.06,202.82 310.74,202.83 311.42,202.84 312.09,202.85 312.77,202.86 313.45,202.87 314.13,202.87 314.80,202.88 315.48,202.89 316.16,202.90 316.84,202.91 317.51,202.92 318.19,202.93 318.87,202.94 319.55,202.95 320.22,202.95 320.90,202.96" fill="none" stroke="#8030e0" stroke-width="1.25" stroke-dasharray="4 2.4"/>
<polyline points="50.60,154.84 51.28,154.85 51.95,154.85 52.63,154.85 53.31,154.85 53.99,154.85 54.66,154.85 55.34,154.86 56.02,154.86 56.70,154.86 57.37,154.87 58.05,154.87 58.73,154.88 59.41,154.88 60.08,154.89 60.76,154.89 61.44,154.90 62.12,154.91 62.79,154.91 63.47,154.92 64.15,154.93 64.83,154.94 65.50,154.95 66.18,154.96 66.86,154.97 67.54,154.98 68.21,154.99 68.89,155.00 69.57,155.02 70.25,155.03 70.92,155.04 71.60,155.06 72.28,155.07 72.96,155.08 73.63,155.10 74.31,155.11 74.99,155.13 75.67,155.15 76.34,155.16 77.02,155.18 77.70,155.20 78.38,155.22 79.05,155.24 79.73,155.26 80.41,155.28 81.08,155.30 81.76,155.32 82.44,155.34 83.12,155.37 83.79,155.42 84.47,155.47 85.15,155.54 85.83,155.61 86.50,155.69 87.18,155.78 87.86,155.87 88.54,155.97 89.21,156.06 89.89,156.16 90.57,156.28 91.25,156.40 91.92,156.54 92.60,156.68 93.28,156.84 93.96,157.00 94.63,157.16 95.31,157.33 95.99,157.50 96.67,157.66 97.34,157.83 98.02,157.99 98.70,158.17 99.38,158.36 100.05,158.58 100.73,158.83 101.41,159.12 102.09,159.53 102.76,160.03 103.44,160.60 104.12,161.18 104.80,161.74 105.47,162.32 106.15,162.91 106.83,163.53 107.51,164.15 108.18,164.78 108.86,165.41 109.54,166.03 110.22,166.63 110.89,167.23 111.57,167.81 112.25,168.38 112.92,168.96 113.60,169.55 114.28,170.16 114.96,170.79 115.63,171.46 116.31,172.16 116.99,172.92 117.67,173.75 118.34,174.61 119.02,175.47 119.70,176.30 120.38,177.16 121.05,178.03 121.73,178.86 122.41,179.62 123.09,180.26 123.76,180.83 124.44,181.35 125.12,181.84 125.80,182.31 126.47,182.80 127.15,183.30 127.83,183.82 128.51,184.35 129.18,184.88 129.86,185.41 130.54,185.95 131.22,186.47 131.89,186.99 132.57,187.51 133.25,188.01 133.93,188.51 134.60,189.03 135.28,189.54 135.96,190.03 136.64,190.49 137.31,190.91 137.99,191.27 138.67,191.60 139.35,191.92 140.02,192.22 140.70,192.51 141.38,192.78 142.05,193.05 142.73,193.30 143.41,193.54 144.09,193.76 144.76,193.98 145.44,194.18 146.12,194.37 146.80,194.56 147.47,194.73 148.15,194.90 148.83,195.06 149.51,195.21 150.18,195.36 150.86,195.50 151.54,195.64 152.22,195.77 152.89,195.90 153.57,196.03 154.25,196.15 154.93,196.27 155.60,196.39 156.28,196.50 156.96,196.62 157.64,196.73 158.31,196.85 158.99,196.96 159.67,197.08 160.35,197.19 161.02,197.30 161.70,197.41 162.38,197.52 163.06,197.62 163.73,197.73 164.41,197.83 165.09,197.94 165.77,198.04 166.44,198.14 167.12,198.24 167.80,198.33 168.48,198.43 169.15,198.52 169.83,198.61 170.51,198.70 171.18,198.78 171.86,198.87 172.54,198.95 173.22,199.03 173.89,199.10 174.57,199.18 175.25,199.25 175.93,199.32 176.60,199.39 177.28,199.46 177.96,199.54 178.64,199.61 179.31,199.67 179.99,199.74 180.67,199.81 181.35,199.88 182.02,199.95 182.70,200.01 183.38,200.08 184.06,200.14 184.73,200.20 185.41,200.26 186.09,200.32 186.77,200.38 187.44,200.44 188.12,200.50 188.80,200.56 189.48,200.61 190.15,200.66 190.83,200.72 191.51,200.77 192.19,200.82 192.86,200.87 193.54,200.91 194.22,200.96 194.90,201.00 195.57,201.04 196.25,201.08 196.93,201.12 197.61,201.16 198.28,201.20 198.96,201.23 199.64,201.26 200.32,201.29 200.99,201.32 201.67,201.35 202.35,201.38 203.02,201.41 203.70,201.43 204.38,201.46 205.06,201.48 205.73,201.51 206.41,201.53 207.09,201.55 207.77,201.58 208.44,201.60 209.12,201.62 209.80,201.64 210.48,201.66 211.15,201.68 211.83,201.70 212.51,201.72 213.19,201.74 213.86,201.76 214.54,201.78 215.22,201.80 215.90,201.82 216.57,201.84 217.25,201.86 217.93,201.88 218.61,201.90 219.28,201.91 219.96,201.93 220.64,201.95 221.32,201.97 221.99,201.99 222.67,202.01 223.35,202.03 224.03,202.05 224.70,202.06 225.38,202.08 226.06,202.10 226.74,202.12 227.41,202.14 228.09,202.15 228.77,202.17 229.45,202.19 230.12,202.21 230.80,202.22 231.48,202.24 232.15,202.26 232.83,202.27 233.51,202.29 234.19,202.31 234.86,202.32 235.54,202.34 236.22,202.36 236.90,202.37 237.57,202.39 238.25,202.40 238.93,202.42 239.61,202.43 240.28,202.45 240.96,202.46 241.64,202.48 242.32,202.49 242.99,202.51 243.67,202.52 244.35,202.54 245.03,202.55 245.70,202.57 246.38,202.58 247.06,202.60 247.74,202.61 248.41,202.62 249.09,202.64 249.77,202.65 250.45,202.66 251.12,202.68 251.80,202.69 252.48,202.70 253.16,202.71 253.83,202.73 254.51,202.74 255.19,202.75 255.87,202.76 256.54,202.78 257.22,202.79 257.90,202.80 258.58,202.81 259.25,202.83 259.93,202.84 260.61,202.85 261.28,202.86 261.96,202.88 262.64,202.89 263.32,202.90 263.99,202.91 264.67,202.92 265.35,202.94 266.03,202.95 266.70,202.96 267.38,202.97 268.06,202.98 268.74,202.99 269.41,203.01 270.09,203.02 270.77,203.03 271.45,203.04 272.12,203.05 272.80,203.06 273.48,203.08 274.16,203.09 274.83,203.10 275.51,203.11 276.19,203.12 276.87,203.13 277.54,203.14 278.22,203.15 278.90,203.16 279.58,203.18 280.25,203.19 280.93,203.20 281.61,203.21 282.29,203.22 282.96,203.23 283.64,203.24 284.32,203.25 285.00,203.26 285.67,203.27 286.35,203.28 287.03,203.29 287.71,203.30 288.38,203.31 289.06,203.32 289.74,203.33 290.42,203.34 291.09,203.35 291.77,203.36 292.45,203.37 293.12,203.38 293.80,203.39 294.48,203.40 295.16,203.41 295.83,203.42 296.51,203.43 297.19,203.44 297.87,203.45 298.54,203.46 299.22,203.46 299.90,203.47 300.58,203.48 301.25,203.49 301.93,203.50 302.61,203.51 303.29,203.52 303.96,203.52 304.64,203.53 305.32,203.54 306.00,203.55 306.67,203.56 307.35,203.56 308.03,203.57 308.71,203.58 309.38,203.59 310.06,203.59 310.74,203.60 311.42,203.61 312.09,203.62 312.77,203.62 313.45,203.63 314.13,203.64 314.80,203.64 315.48,203.65 316.16,203.66 316.84,203.66 317.51,203.67 318.19,203.68 318.87,203.68 319.55,203.69 320.22,203.69 320.90,203.70" fill="none" stroke="#e0207a" stroke-width="1.25" stroke-dasharray="4 2.4"/>
<polyline points="50.60,167.86 51.28,167.86 51.95,167.86 52.63,167.86 53.31,167.86 53.99,167.86 54.66,167.87 55.34,167.87 56.02,167.88 56.70,167.88 57.37,167.89 58.05,167.90 58.73,167.90 59.41,167.91 60.08,167.92 60.76,167.93 61.44,167.94 62.12,167.95 62.79,167.96 63.47,167.98 64.15,167.99 64.83,168.00 65.50,168.02 66.18,168.03 66.86,168.05 67.54,168.07 68.21,168.08 68.89,168.10 69.57,168.12 70.25,168.14 70.92,168.16 71.60,168.18 72.28,168.20 72.96,168.22 73.63,168.24 74.31,168.27 74.99,168.29 75.67,168.31 76.34,168.34 77.02,168.36 77.70,168.39 78.38,168.42 79.05,168.44 79.73,168.47 80.41,168.50 81.08,168.53 81.76,168.56 82.44,168.59 83.12,168.62 83.79,168.66 84.47,168.69 85.15,168.72 85.83,168.77 86.50,168.83 87.18,168.90 87.86,168.99 88.54,169.08 89.21,169.19 89.89,169.30 90.57,169.41 91.25,169.54 91.92,169.68 92.60,169.85 93.28,170.03 93.96,170.22 94.63,170.43 95.31,170.64 95.99,170.85 96.67,171.07 97.34,171.29 98.02,171.51 98.70,171.75 99.38,171.99 100.05,172.24 100.73,172.51 101.41,172.80 102.09,173.10 102.76,173.44 103.44,173.81 104.12,174.23 104.80,174.67 105.47,175.14 106.15,175.61 106.83,176.08 107.51,176.55 108.18,177.04 108.86,177.54 109.54,178.05 110.22,178.57 110.89,179.09 111.57,179.64 112.25,180.21 112.92,180.79 113.60,181.35 114.28,181.88 114.96,182.36 115.63,182.80 116.31,183.22 116.99,183.62 117.67,184.02 118.34,184.42 119.02,184.85 119.70,185.32 120.38,185.81 121.05,186.33 121.73,186.86 122.41,187.38 123.09,187.90 123.76,188.39 124.44,188.85 125.12,189.30 125.80,189.74 126.47,190.17 127.15,190.59 127.83,191.01 128.51,191.43 129.18,191.86 129.86,192.29 130.54,192.72 131.22,193.15 131.89,193.55 132.57,193.92 133.25,194.26 133.93,194.58 134.60,194.89 135.28,195.19 135.96,195.48 136.64,195.74 137.31,195.99 137.99,196.20 138.67,196.38 139.35,196.53 140.02,196.67 140.70,196.80 141.38,196.92 142.05,197.03 142.73,197.13 143.41,197.23 144.09,197.32 144.76,197.41 145.44,197.50 146.12,197.58 146.80,197.66 147.47,197.74 148.15,197.81 148.83,197.89 149.51,197.96 150.18,198.04 150.86,198.11 151.54,198.19 152.22,198.27 152.89,198.36 153.57,198.44 154.25,198.52 154.93,198.61 155.60,198.69 156.28,198.77 156.96,198.85 157.64,198.93 158.31,199.01 158.99,199.08 159.67,199.16 160.35,199.24 161.02,199.31 161.70,199.39 162.38,199.46 163.06,199.53 163.73,199.61 164.41,199.68 165.09,199.75 165.77,199.82 166.44,199.89 167.12,199.96 167.80,200.04 168.48,200.11 169.15,200.18 169.83,200.24 170.51,200.31 171.18,200.38 171.86,200.45 172.54,200.52 173.22,200.58 173.89,200.65 174.57,200.71 175.25,200.78 175.93,200.84 176.60,200.91 177.28,200.97 177.96,201.03 178.64,201.09 179.31,201.15 179.99,201.21 180.67,201.27 181.35,201.33 182.02,201.39 182.70,201.45 183.38,201.51 184.06,201.57 184.73,201.63 185.41,201.69 186.09,201.75 186.77,201.81 187.44,201.86 188.12,201.92 188.80,201.98 189.48,202.03 190.15,202.09 190.83,202.14 191.51,202.20 192.19,202.25 192.86,202.30 193.54,202.35 194.22,202.40 194.90,202.45 195.57,202.49 196.25,202.54 196.93,202.58 197.61,202.62 198.28,202.66 198.96,202.70 199.64,202.74 200.32,202.77 200.99,202.81 201.67,202.84 202.35,202.87 203.02,202.90 203.70,202.93 204.38,202.96 205.06,202.99 205.73,203.02 206.41,203.05 207.09,203.08 207.77,203.10 208.44,203.13 209.12,203.15 209.80,203.18 210.48,203.20 211.15,203.23 211.83,203.25 212.51,203.28 213.19,203.30 213.86,203.33 214.54,203.35 215.22,203.38 215.90,203.40 216.57,203.43 217.25,203.45 217.93,203.48 218.61,203.50 219.28,203.53 219.96,203.56 220.64,203.58 221.32,203.61 221.99,203.64 222.67,203.66 223.35,203.69 224.03,203.72 224.70,203.75 225.38,203.77 226.06,203.80 226.74,203.83 227.41,203.86 228.09,203.88 228.77,203.91 229.45,203.94 230.12,203.97 230.80,203.99 231.48,204.02 232.15,204.05 232.83,204.07 233.51,204.10 234.19,204.13 234.86,204.15 235.54,204.18 236.22,204.20 236.90,204.23 237.57,204.25 238.25,204.28 238.93,204.30 239.61,204.32 240.28,204.35 240.96,204.37 241.64,204.39 242.32,204.41 242.99,204.44 243.67,204.46 244.35,204.48 245.03,204.50 245.70,204.52 246.38,204.53 247.06,204.55 247.74,204.57 248.41,204.59 249.09,204.60 249.77,204.62 250.45,204.63 251.12,204.64 251.80,204.66 252.48,204.67 253.16,204.68 253.83,204.69 254.51,204.70 255.19,204.71 255.87,204.72 256.54,204.73 257.22,204.74 257.90,204.75 258.58,204.76 259.25,204.77 259.93,204.78 260.61,204.79 261.28,204.80 261.96,204.81 262.64,204.82 263.32,204.83 263.99,204.84 264.67,204.85 265.35,204.86 266.03,204.87 266.70,204.88 267.38,204.88 268.06,204.89 268.74,204.90 269.41,204.91 270.09,204.92 270.77,204.93 271.45,204.94 272.12,204.95 272.80,204.96 273.48,204.96 274.16,204.97 274.83,204.98 275.51,204.99 276.19,205.00 276.87,205.01 277.54,205.01 278.22,205.02 278.90,205.03 279.58,205.04 280.25,205.04 280.93,205.05 281.61,205.06 282.29,205.07 282.96,205.07 283.64,205.08 284.32,205.09 285.00,205.10 285.67,205.10 286.35,205.11 287.03,205.12 287.71,205.12 288.38,205.13 289.06,205.14 289.74,205.14 290.42,205.15 291.09,205.15 291.77,205.16 292.45,205.17 293.12,205.17 293.80,205.18 294.48,205.18 295.16,205.19 295.83,205.19 296.51,205.20 297.19,205.20 297.87,205.21 298.54,205.21 299.22,205.22 299.90,205.22 300.58,205.23 301.25,205.23 301.93,205.24 302.61,205.24 303.29,205.24 303.96,205.25 304.64,205.25 305.32,205.25 306.00,205.26 306.67,205.26 307.35,205.26 308.03,205.27 308.71,205.27 309.38,205.27 310.06,205.28 310.74,205.28 311.42,205.28 312.09,205.28 312.77,205.28 313.45,205.29 314.13,205.29 314.80,205.29 315.48,205.29 316.16,205.29 316.84,205.29 317.51,205.29 318.19,205.29 318.87,205.29 319.55,205.29 320.22,205.30 320.90,205.30" fill="none" stroke="#eeec48" stroke-width="1.25" stroke-dasharray="4 2.4"/>
<polyline points="50.60,173.01 51.28,173.01 51.95,173.01 52.63,173.02 53.31,173.02 53.99,173.03 54.66,173.03 55.34,173.04 56.02,173.05 56.70,173.05 57.37,173.06 58.05,173.07 58.73,173.09 59.41,173.10 60.08,173.11 60.76,173.13 61.44,173.14 62.12,173.16 62.79,173.18 63.47,173.20 64.15,173.21 64.83,173.24 65.50,173.26 66.18,173.28 66.86,173.30 67.54,173.33 68.21,173.35 68.89,173.38 69.57,173.40 70.25,173.43 70.92,173.46 71.60,173.49 72.28,173.52 72.96,173.55 73.63,173.58 74.31,173.61 74.99,173.65 75.67,173.68 76.34,173.72 77.02,173.75 77.70,173.79 78.38,173.83 79.05,173.87 79.73,173.91 80.41,173.95 81.08,173.99 81.76,174.03 82.44,174.07 83.12,174.11 83.79,174.16 84.47,174.20 85.15,174.25 85.83,174.31 86.50,174.38 87.18,174.47 87.86,174.58 88.54,174.69 89.21,174.81 89.89,174.93 90.57,175.06 91.25,175.19 91.92,175.33 92.60,175.49 93.28,175.66 93.96,175.83 94.63,176.01 95.31,176.20 95.99,176.40 96.67,176.59 97.34,176.79 98.02,177.00 98.70,177.21 99.38,177.43 100.05,177.66 100.73,177.90 101.41,178.15 102.09,178.41 102.76,178.68 103.44,178.95 104.12,179.23 104.80,179.52 105.47,179.82 106.15,180.15 106.83,180.50 107.51,180.89 108.18,181.31 108.86,181.82 109.54,182.46 110.22,183.16 110.89,183.84 111.57,184.43 112.25,184.95 112.92,185.45 113.60,185.92 114.28,186.38 114.96,186.83 115.63,187.27 116.31,187.72 116.99,188.15 117.67,188.57 118.34,188.99 119.02,189.40 119.70,189.81 120.38,190.21 121.05,190.61 121.73,191.01 122.41,191.41 123.09,191.81 123.76,192.21 124.44,192.60 125.12,192.99 125.80,193.37 126.47,193.75 127.15,194.11 127.83,194.47 128.51,194.82 129.18,195.18 129.86,195.52 130.54,195.86 131.22,196.19 131.89,196.51 132.57,196.80 133.25,197.08 133.93,197.35 134.60,197.60 135.28,197.85 135.96,198.09 136.64,198.32 137.31,198.55 137.99,198.76 138.67,198.97 139.35,199.16 140.02,199.35 140.70,199.53 141.38,199.69 142.05,199.86 142.73,200.01 143.41,200.16 144.09,200.30 144.76,200.44 145.44,200.56 146.12,200.68 146.80,200.79 147.47,200.90 148.15,200.99 148.83,201.09 149.51,201.18 150.18,201.27 150.86,201.36 151.54,201.44 152.22,201.52 152.89,201.60 153.57,201.68 154.25,201.75 154.93,201.83 155.60,201.90 156.28,201.97 156.96,202.04 157.64,202.11 158.31,202.18 158.99,202.25 159.67,202.33 160.35,202.40 161.02,202.47 161.70,202.54 162.38,202.61 163.06,202.68 163.73,202.74 164.41,202.81 165.09,202.88 165.77,202.94 166.44,203.00 167.12,203.06 167.80,203.12 168.48,203.18 169.15,203.24 169.83,203.29 170.51,203.34 171.18,203.39 171.86,203.43 172.54,203.47 173.22,203.51 173.89,203.55 174.57,203.59 175.25,203.63 175.93,203.67 176.60,203.71 177.28,203.74 177.96,203.78 178.64,203.81 179.31,203.85 179.99,203.88 180.67,203.92 181.35,203.95 182.02,203.98 182.70,204.01 183.38,204.04 184.06,204.07 184.73,204.10 185.41,204.13 186.09,204.16 186.77,204.18 187.44,204.21 188.12,204.24 188.80,204.26 189.48,204.28 190.15,204.31 190.83,204.33 191.51,204.35 192.19,204.37 192.86,204.39 193.54,204.41 194.22,204.42 194.90,204.44 195.57,204.46 196.25,204.47 196.93,204.49 197.61,204.50 198.28,204.51 198.96,204.53 199.64,204.54 200.32,204.55 200.99,204.57 201.67,204.58 202.35,204.59 203.02,204.60 203.70,204.61 204.38,204.63 205.06,204.64 205.73,204.65 206.41,204.66 207.09,204.67 207.77,204.68 208.44,204.69 209.12,204.70 209.80,204.71 210.48,204.72 211.15,204.72 211.83,204.73 212.51,204.74 213.19,204.75 213.86,204.76 214.54,204.77 215.22,204.78 215.90,204.79 216.57,204.80 217.25,204.80 217.93,204.81 218.61,204.82 219.28,204.83 219.96,204.84 220.64,204.85 221.32,204.85 221.99,204.86 222.67,204.87 223.35,204.88 224.03,204.89 224.70,204.90 225.38,204.90 226.06,204.91 226.74,204.92 227.41,204.93 228.09,204.93 228.77,204.94 229.45,204.95 230.12,204.96 230.80,204.97 231.48,204.97 232.15,204.98 232.83,204.99 233.51,204.99 234.19,205.00 234.86,205.01 235.54,205.02 236.22,205.02 236.90,205.03 237.57,205.04 238.25,205.04 238.93,205.05 239.61,205.06 240.28,205.06 240.96,205.07 241.64,205.08 242.32,205.08 242.99,205.09 243.67,205.09 244.35,205.10 245.03,205.11 245.70,205.11 246.38,205.12 247.06,205.12 247.74,205.13 248.41,205.13 249.09,205.14 249.77,205.15 250.45,205.15 251.12,205.16 251.80,205.16 252.48,205.17 253.16,205.17 253.83,205.18 254.51,205.18 255.19,205.19 255.87,205.19 256.54,205.20 257.22,205.20 257.90,205.21 258.58,205.21 259.25,205.22 259.93,205.22 260.61,205.23 261.28,205.23 261.96,205.23 262.64,205.24 263.32,205.24 263.99,205.25 264.67,205.25 265.35,205.26 266.03,205.26 266.70,205.27 267.38,205.27 268.06,205.28 268.74,205.28 269.41,205.29 270.09,205.29 270.77,205.30 271.45,205.30 272.12,205.31 272.80,205.31 273.48,205.31 274.16,205.32 274.83,205.32 275.51,205.33 276.19,205.33 276.87,205.34 277.54,205.34 278.22,205.34 278.90,205.35 279.58,205.35 280.25,205.36 280.93,205.36 281.61,205.37 282.29,205.37 282.96,205.37 283.64,205.38 284.32,205.38 285.00,205.39 285.67,205.39 286.35,205.39 287.03,205.40 287.71,205.40 288.38,205.41 289.06,205.41 289.74,205.41 290.42,205.42 291.09,205.42 291.77,205.42 292.45,205.43 293.12,205.43 293.80,205.44 294.48,205.44 295.16,205.44 295.83,205.45 296.51,205.45 297.19,205.45 297.87,205.46 298.54,205.46 299.22,205.46 299.90,205.47 300.58,205.47 301.25,205.47 301.93,205.48 302.61,205.48 303.29,205.48 303.96,205.48 304.64,205.49 305.32,205.49 306.00,205.49 306.67,205.50 307.35,205.50 308.03,205.50 308.71,205.50 309.38,205.51 310.06,205.51 310.74,205.51 311.42,205.51 312.09,205.52 312.77,205.52 313.45,205.52 314.13,205.52 314.80,205.52 315.48,205.53 316.16,205.53 316.84,205.53 317.51,205.53 318.19,205.53 318.87,205.54 319.55,205.54 320.22,205.54 320.90,205.54" fill="none" stroke="#7fe0e8" stroke-width="1.25" stroke-dasharray="4 2.4"/>
<rect x="49.40" y="15.18" width="2.40" height="2.40" fill="#000000"/>
<rect x="53.90" y="14.96" width="2.40" height="2.40" fill="#000000"/>
<rect x="58.41" y="15.39" width="2.40" height="2.40" fill="#000000"/>
<rect x="62.91" y="15.86" width="2.40" height="2.40" fill="#000000"/>
<rect x="67.42" y="15.54" width="2.40" height="2.40" fill="#000000"/>
<rect x="71.92" y="15.98" width="2.40" height="2.40" fill="#000000"/>
<rect x="76.43" y="15.27" width="2.40" height="2.40" fill="#000000"/>
<rect x="80.93" y="14.51" width="2.40" height="2.40" fill="#000000"/>
<rect x="85.44" y="16.34" width="2.40" height="2.40" fill="#000000"/>
<rect x="89.94" y="17.36" width="2.40" height="2.40" fill="#000000"/>
<rect x="94.45" y="18.05" width="2.40" height="2.40" fill="#000000"/>
<rect x="98.95" y="20.21" width="2.40" height="2.40" fill="#000000"/>
<rect x="103.46" y="23.23" width="2.40" height="2.40" fill="#000000"/>
<rect x="107.96" y="27.89" width="2.40" height="2.40" fill="#000000"/>
<rect x="112.47" y="32.17" width="2.40" height="2.40" fill="#000000"/>
<rect x="116.97" y="37.98" width="2.40" height="2.40" fill="#000000"/>
<rect x="121.48" y="46.86" width="2.40" height="2.40" fill="#000000"/>
<rect x="125.98" y="60.26" width="2.40" height="2.40" fill="#000000"/>
<rect x="130.49" y="84.26" width="2.40" height="2.40" fill="#000000"/>
<rect x="134.99" y="108.21" width="2.40" height="2.40" fill="#000000"/>
<rect x="139.50" y="127.75" width="2.40" height="2.40" fill="#000000"/>
<rect x="144.00" y="143.40" width="2.40" height="2.40" fill="#000000"/>
<rect x="148.51" y="154.64" width="2.40" height="2.40" fill="#000000"/>
<rect x="153.01" y="163.24" width="2.40" height="2.40" fill="#000000"/>
<rect x="157.52" y="168.97" width="2.40" height="2.40" fill="#000000"/>
<rect x="162.02" y="173.82" width="2.40" height="2.40" fill="#000000"/>
<rect x="166.53" y="178.98" width="2.40" height="2.40" fill="#000000"/>
<rect x="171.03" y="182.19" width="2.40" height="2.40" fill="#000000"/>
<rect x="175.54" y="184.65" width="2.40" height="2.40" fill="#000000"/>
<rect x="180.04" y="186.60" width="2.40" height="2.40" fill="#000000"/>
<rect x="184.55" y="188.33" width="2.40" height="2.40" fill="#000000"/>
<rect x="189.05" y="189.57" width="2.40" height="2.40" fill="#000000"/>
<rect x="193.56" y="190.74" width="2.40" height="2.40" fill="#000000"/>
<rect x="198.06" y="191.74" width="2.40" height="2.40" fill="#000000"/>
<rect x="202.57" y="192.58" width="2.40" height="2.40" fill="#000000"/>
<rect x="207.07" y="193.55" width="2.40" height="2.40" fill="#000000"/>
<rect x="211.58" y="194.28" width="2.40" height="2.40" fill="#000000"/>
<rect x="216.08" y="194.85" width="2.40" height="2.40" fill="#000000"/>
<rect x="220.59" y="195.41" width="2.40" height="2.40" fill="#000000"/>
<rect x="225.09" y="195.84" width="2.40" height="2.40" fill="#000000"/>
<rect x="229.60" y="196.25" width="2.40" height="2.40" fill="#000000"/>
<rect x="234.10" y="196.62" width="2.40" height="2.40" fill="#000000"/>
<rect x="238.61" y="197.00" width="2.40" height="2.40" fill="#000000"/>
<rect x="243.11" y="197.27" width="2.40" height="2.40" fill="#000000"/>
<rect x="247.62" y="197.52" width="2.40" height="2.40" fill="#000000"/>
<rect x="252.12" y="197.88" width="2.40" height="2.40" fill="#000000"/>
<rect x="256.63" y="198.07" width="2.40" height="2.40" fill="#000000"/>
<rect x="261.13" y="198.32" width="2.40" height="2.40" fill="#000000"/>
<rect x="265.64" y="198.56" width="2.40" height="2.40" fill="#000000"/>
<rect x="270.14" y="198.70" width="2.40" height="2.40" fill="#000000"/>
<rect x="274.65" y="198.92" width="2.40" height="2.40" fill="#000000"/>
<rect x="279.15" y="199.16" width="2.40" height="2.40" fill="#000000"/>
<rect x="283.66" y="199.31" width="2.40" height="2.40" fill="#000000"/>
<rect x="288.16" y="199.47" width="2.40" height="2.40" fill="#000000"/>
<rect x="292.67" y="199.66" width="2.40" height="2.40" fill="#000000"/>
<rect x="297.17" y="199.80" width="2.40" height="2.40" fill="#000000"/>
<rect x="301.68" y="199.98" width="2.40" height="2.40" fill="#000000"/>
<rect x="306.18" y="200.11" width="2.40" height="2.40" fill="#000000"/>
<rect x="310.69" y="200.24" width="2.40" height="2.40" fill="#000000"/>
<rect x="315.19" y="200.42" width="2.40" height="2.40" fill="#000000"/>
<rect x="319.70" y="200.53" width="2.40" height="2.40" fill="#000000"/>
<circle cx="50.60" cy="37.70" r="1.20" fill="#e0101e"/>
<circle cx="55.10" cy="36.50" r="1.20" fill="#e0101e"/>
<circle cx="59.61" cy="39.18" r="1.20" fill="#e0101e"/>
<circle cx="64.11" cy="37.96" r="1.20" fill="#e0101e"/>
<circle cx="68.62" cy="37.24" r="1.20" fill="#e0101e"/>
<circle cx="73.12" cy="35.15" r="1.20" fill="#e0101e"/>
<circle cx="77.63" cy="34.96" r="1.20" fill="#e0101e"/>
<circle cx="82.13" cy="40.57" r="1.20" fill="#e0101e"/>
<circle cx="86.64" cy="40.57" r="1.20" fill="#e0101e"/>
<circle cx="91.14" cy="39.41" r="1.20" fill="#e0101e"/>
<circle cx="95.65" cy="46.92" r="1.20" fill="#e0101e"/>
<circle cx="100.15" cy="46.54" r="1.20" fill="#e0101e"/>
<circle cx="104.66" cy="48.53" r="1.20" fill="#e0101e"/>
<circle cx="109.16" cy="49.08" r="1.20" fill="#e0101e"/>
<circle cx="113.67" cy="52.87" r="1.20" fill="#e0101e"/>
<circle cx="118.17" cy="56.83" r="1.20" fill="#e0101e"/>
<circle cx="122.68" cy="63.43" r="1.20" fill="#e0101e"/>
<circle cx="127.18" cy="80.51" r="1.20" fill="#e0101e"/>
<circle cx="131.69" cy="101.16" r="1.20" fill="#e0101e"/>
<circle cx="136.19" cy="125.20" r="1.20" fill="#e0101e"/>
<circle cx="140.70" cy="141.58" r="1.20" fill="#e0101e"/>
<circle cx="145.20" cy="154.63" r="1.20" fill="#e0101e"/>
<circle cx="149.71" cy="163.13" r="1.20" fill="#e0101e"/>
<circle cx="154.21" cy="169.78" r="1.20" fill="#e0101e"/>
<circle cx="158.72" cy="176.85" r="1.20" fill="#e0101e"/>
<circle cx="163.22" cy="181.36" r="1.20" fill="#e0101e"/>
<circle cx="167.73" cy="183.87" r="1.20" fill="#e0101e"/>
<circle cx="172.23" cy="185.60" r="1.20" fill="#e0101e"/>
<circle cx="176.74" cy="188.46" r="1.20" fill="#e0101e"/>
<circle cx="181.24" cy="190.85" r="1.20" fill="#e0101e"/>
<circle cx="185.75" cy="192.54" r="1.20" fill="#e0101e"/>
<circle cx="190.25" cy="194.02" r="1.20" fill="#e0101e"/>
<circle cx="194.76" cy="194.90" r="1.20" fill="#e0101e"/>
<circle cx="199.26" cy="195.97" r="1.20" fill="#e0101e"/>
<circle cx="203.77" cy="196.75" r="1.20" fill="#e0101e"/>
<circle cx="208.27" cy="197.73" r="1.20" fill="#e0101e"/>
<circle cx="212.78" cy="198.23" r="1.20" fill="#e0101e"/>
<circle cx="217.28" cy="198.94" r="1.20" fill="#e0101e"/>
<circle cx="221.79" cy="199.40" r="1.20" fill="#e0101e"/>
<circle cx="226.29" cy="199.64" r="1.20" fill="#e0101e"/>
<circle cx="230.80" cy="200.05" r="1.20" fill="#e0101e"/>
<circle cx="235.30" cy="200.30" r="1.20" fill="#e0101e"/>
<circle cx="239.81" cy="200.44" r="1.20" fill="#e0101e"/>
<circle cx="244.31" cy="200.91" r="1.20" fill="#e0101e"/>
<circle cx="248.82" cy="201.11" r="1.20" fill="#e0101e"/>
<circle cx="253.32" cy="201.23" r="1.20" fill="#e0101e"/>
<circle cx="257.83" cy="201.37" r="1.20" fill="#e0101e"/>
<circle cx="262.33" cy="201.56" r="1.20" fill="#e0101e"/>
<circle cx="266.84" cy="201.71" r="1.20" fill="#e0101e"/>
<circle cx="271.34" cy="201.80" r="1.20" fill="#e0101e"/>
<circle cx="275.85" cy="201.95" r="1.20" fill="#e0101e"/>
<circle cx="280.35" cy="202.16" r="1.20" fill="#e0101e"/>
<circle cx="284.86" cy="202.22" r="1.20" fill="#e0101e"/>
<circle cx="289.36" cy="202.33" r="1.20" fill="#e0101e"/>
<circle cx="293.87" cy="202.48" r="1.20" fill="#e0101e"/>
<circle cx="298.37" cy="202.50" r="1.20" fill="#e0101e"/>
<circle cx="302.88" cy="202.62" r="1.20" fill="#e0101e"/>
<circle cx="307.38" cy="202.60" r="1.20" fill="#e0101e"/>
<circle cx="311.89" cy="202.67" r="1.20" fill="#e0101e"/>
<circle cx="316.39" cy="202.70" r="1.20" fill="#e0101e"/>
<circle cx="320.90" cy="202.74" r="1.20" fill="#e0101e"/>
<path d="M50.60 60.62L52.28 63.70L48.92 63.70Z" fill="#2a20b0"/>
<path d="M55.10 64.62L56.78 67.70L53.42 67.70Z" fill="#2a20b0"/>
<path d="M59.61 63.21L61.29 66.29L57.93 66.29Z" fill="#2a20b0"/>
<path d="M64.11 60.72L65.79 63.80L62.43 63.80Z" fill="#2a20b0"/>
<path d="M68.62 66.43L70.30 69.51L66.94 69.51Z" fill="#2a20b0"/>
<path d="M73.12 61.51L74.80 64.59L71.44 64.59Z" fill="#2a20b0"/>
<path d="M77.63 67.88L79.31 70.96L75.95 70.96Z" fill="#2a20b0"/>
<path d="M82.13 64.52L83.81 67.60L80.45 67.60Z" fill="#2a20b0"/>
<path d="M86.64 69.32L88.32 72.40L84.96 72.40Z" fill="#2a20b0"/>
<path d="M91.14 67.94L92.82 71.02L89.46 71.02Z" fill="#2a20b0"/>
<path d="M95.65 70.78L97.33 73.86L93.97 73.86Z" fill="#2a20b0"/>
<path d="M100.15 75.45L101.83 78.53L98.47 78.53Z" fill="#2a20b0"/>
<path d="M104.66 72.39L106.34 75.47L102.98 75.47Z" fill="#2a20b0"/>
<path d="M109.16 74.07L110.84 77.15L107.48 77.15Z" fill="#2a20b0"/>
<path d="M113.67 77.39L115.35 80.47L111.99 80.47Z" fill="#2a20b0"/>
<path d="M118.17 82.68L119.85 85.76L116.49 85.76Z" fill="#2a20b0"/>
<path d="M122.68 94.93L124.36 98.01L121.00 98.01Z" fill="#2a20b0"/>
<path d="M127.18 111.87L128.86 114.95L125.50 114.95Z" fill="#2a20b0"/>
<path d="M131.69 125.09L133.37 128.17L130.01 128.17Z" fill="#2a20b0"/>
<path d="M136.19 141.99L137.87 145.07L134.51 145.07Z" fill="#2a20b0"/>
<path d="M140.70 154.43L142.38 157.51L139.02 157.51Z" fill="#2a20b0"/>
<path d="M145.20 164.66L146.88 167.74L143.52 167.74Z" fill="#2a20b0"/>
<path d="M149.71 170.65L151.39 173.73L148.03 173.73Z" fill="#2a20b0"/>
<path d="M154.21 176.39L155.89 179.47L152.53 179.47Z" fill="#2a20b0"/>
<path d="M158.72 180.36L160.40 183.44L157.04 183.44Z" fill="#2a20b0"/>
<path d="M163.22 183.30L164.90 186.38L161.54 186.38Z" fill="#2a20b0"/>
<path d="M167.73 185.48L169.41 188.56L166.05 188.56Z" fill="#2a20b0"/>
<path d="M172.23 187.79L173.91 190.87L170.55 190.87Z" fill="#2a20b0"/>
<path d="M176.74 189.56L178.42 192.64L175.06 192.64Z" fill="#2a20b0"/>
<path d="M181.24 191.11L182.92 194.19L179.56 194.19Z" fill="#2a20b0"/>
<path d="M185.75 192.54L187.43 195.62L184.07 195.62Z" fill="#2a20b0"/>
<path d="M190.25 193.48L191.93 196.56L188.57 196.56Z" fill="#2a20b0"/>
<path d="M194.76 194.41L196.44 197.49L193.08 197.49Z" fill="#2a20b0"/>
<path d="M199.26 195.19L200.94 198.27L197.58 198.27Z" fill="#2a20b0"/>
<path d="M203.77 196.10L205.45 199.18L202.09 199.18Z" fill="#2a20b0"/>
<path d="M208.27 196.78L209.95 199.86L206.59 199.86Z" fill="#2a20b0"/>
<path d="M212.78 197.19L214.46 200.27L211.10 200.27Z" fill="#2a20b0"/>
<path d="M217.28 197.91L218.96 200.99L215.60 200.99Z" fill="#2a20b0"/>
<path d="M221.79 198.30L223.47 201.38L220.11 201.38Z" fill="#2a20b0"/>
<path d="M226.29 198.50L227.97 201.58L224.61 201.58Z" fill="#2a20b0"/>
<path d="M230.80 198.69L232.48 201.77L229.12 201.77Z" fill="#2a20b0"/>
<path d="M235.30 199.18L236.98 202.26L233.62 202.26Z" fill="#2a20b0"/>
<path d="M239.81 199.30L241.49 202.38L238.13 202.38Z" fill="#2a20b0"/>
<path d="M244.31 199.53L245.99 202.61L242.63 202.61Z" fill="#2a20b0"/>
<path d="M248.82 199.78L250.50 202.86L247.14 202.86Z" fill="#2a20b0"/>
<path d="M253.32 199.76L255.00 202.84L251.64 202.84Z" fill="#2a20b0"/>
<path d="M257.83 199.96L259.51 203.04L256.15 203.04Z" fill="#2a20b0"/>
<path d="M262.33 200.10L264.01 203.18L260.65 203.18Z" fill="#2a20b0"/>
<path d="M266.84 200.29L268.52 203.37L265.16 203.37Z" fill="#2a20b0"/>
<path d="M271.34 200.35L273.02 203.43L269.66 203.43Z" fill="#2a20b0"/>
<path d="M275.85 200.55L277.53 203.63L274.17 203.63Z" fill="#2a20b0"/>
<path d="M280.35 200.65L282.03 203.73L278.67 203.73Z" fill="#2a20b0"/>
<path d="M284.86 200.82L286.54 203.90L283.18 203.90Z" fill="#2a20b0"/>
<path d="M289.36 200.94L291.04 204.02L287.68 204.02Z" fill="#2a20b0"/>
<path d="M293.87 200.90L295.55 203.98L292.19 203.98Z" fill="#2a20b0"/>
<path d="M298.37 201.09L300.05 204.17L296.69 204.17Z" fill="#2a20b0"/>
<path d="M302.88 201.12L304.56 204.20L301.20 204.20Z" fill="#2a20b0"/>
<path d="M307.38 201.20L309.06 204.28L305.70 204.28Z" fill="#2a20b0"/>
<path d="M311.89 201.26L313.57 204.34L310.21 204.34Z" fill="#2a20b0"/>
<path d="M316.39 201.30L318.07 204.38L314.71 204.38Z" fill="#2a20b0"/>
<path d="M320.90 201.25L322.58 204.33L319.22 204.33Z" fill="#2a20b0"/>
<path d="M50.60 96.60L52.28 93.52L48.92 93.52Z" fill="#e020e0"/>
<path d="M55.10 96.41L56.78 93.33L53.42 93.33Z" fill="#e020e0"/>
<path d="M59.61 96.23L61.29 93.15L57.93 93.15Z" fill="#e020e0"/>
<path d="M64.11 94.67L65.79 91.59L62.43 91.59Z" fill="#e020e0"/>
<path d="M68.62 95.59L70.30 92.51L66.94 92.51Z" fill="#e020e0"/>
<path d="M73.12 96.34L74.80 93.26L71.44 93.26Z" fill="#e020e0"/>
<path d="M77.63 98.15L79.31 95.07L75.95 95.07Z" fill="#e020e0"/>
<path d="M82.13 99.93L83.81 96.85L80.45 96.85Z" fill="#e020e0"/>
<path d="M86.64 97.34L88.32 94.26L84.96 94.26Z" fill="#e020e0"/>
<path d="M91.14 98.24L92.82 95.16L89.46 95.16Z" fill="#e020e0"/>
<path d="M95.65 100.80L97.33 97.72L93.97 97.72Z" fill="#e020e0"/>
<path d="M100.15 100.94L101.83 97.86L98.47 97.86Z" fill="#e020e0"/>
<path d="M104.66 102.09L106.34 99.01L102.98 99.01Z" fill="#e020e0"/>
<path d="M109.16 104.80L110.84 101.72L107.48 101.72Z" fill="#e020e0"/>
<path d="M113.67 108.02L115.35 104.94L111.99 104.94Z" fill="#e020e0"/>
<path d="M118.17 113.97L119.85 110.89L116.49 110.89Z" fill="#e020e0"/>
<path d="M122.68 124.36L124.36 121.28L121.00 121.28Z" fill="#e020e0"/>
<path d="M127.18 144.84L128.86 141.76L125.50 141.76Z" fill="#e020e0"/>
<path d="M131.69 155.47L133.37 152.39L130.01 152.39Z" fill="#e020e0"/>
<path d="M136.19 163.36L137.87 160.28L134.51 160.28Z" fill="#e020e0"/>
<path d="M140.70 168.35L142.38 165.27L139.02 165.27Z" fill="#e020e0"/>
<path d="M145.20 172.87L146.88 169.79L143.52 169.79Z" fill="#e020e0"/>
<path d="M149.71 178.30L151.39 175.22L148.03 175.22Z" fill="#e020e0"/>
<path d="M154.21 183.65L155.89 180.57L152.53 180.57Z" fill="#e020e0"/>
<path d="M158.72 187.43L160.40 184.35L157.04 184.35Z" fill="#e020e0"/>
<path d="M163.22 189.84L164.90 186.76L161.54 186.76Z" fill="#e020e0"/>
<path d="M167.73 192.62L169.41 189.54L166.05 189.54Z" fill="#e020e0"/>
<path d="M172.23 194.33L173.91 191.25L170.55 191.25Z" fill="#e020e0"/>
<path d="M176.74 195.74L178.42 192.66L175.06 192.66Z" fill="#e020e0"/>
<path d="M181.24 197.42L182.92 194.34L179.56 194.34Z" fill="#e020e0"/>
<path d="M185.75 198.53L187.43 195.45L184.07 195.45Z" fill="#e020e0"/>
<path d="M190.25 199.10L191.93 196.02L188.57 196.02Z" fill="#e020e0"/>
<path d="M194.76 199.86L196.44 196.78L193.08 196.78Z" fill="#e020e0"/>
<path d="M199.26 200.49L200.94 197.41L197.58 197.41Z" fill="#e020e0"/>
<path d="M203.77 200.99L205.45 197.91L202.09 197.91Z" fill="#e020e0"/>
<path d="M208.27 201.54L209.95 198.46L206.59 198.46Z" fill="#e020e0"/>
<path d="M212.78 201.99L214.46 198.91L211.10 198.91Z" fill="#e020e0"/>
<path d="M217.28 202.20L218.96 199.12L215.60 199.12Z" fill="#e020e0"/>
<path d="M221.79 202.52L223.47 199.44L220.11 199.44Z" fill="#e020e0"/>
<path d="M226.29 202.79L227.97 199.71L224.61 199.71Z" fill="#e020e0"/>
<path d="M230.80 202.85L232.48 199.77L229.12 199.77Z" fill="#e020e0"/>
<path d="M235.30 203.08L236.98 200.00L233.62 200.00Z" fill="#e020e0"/>
<path d="M239.81 203.22L241.49 200.14L238.13 200.14Z" fill="#e020e0"/>
<path d="M244.31 203.46L245.99 200.38L242.63 200.38Z" fill="#e020e0"/>
<path d="M248.82 203.58L250.50 200.50L247.14 200.50Z" fill="#e020e0"/>
<path d="M253.32 203.72L255.00 200.64L251.64 200.64Z" fill="#e020e0"/>
<path d="M257.83 203.83L259.51 200.75L256.15 200.75Z" fill="#e020e0"/>
<path d="M262.33 203.88L264.01 200.80L260.65 200.80Z" fill="#e020e0"/>
<path d="M266.84 204.05L268.52 200.97L265.16 200.97Z" fill="#e020e0"/>
<path d="M271.34 204.10L273.02 201.02L269.66 201.02Z" fill="#e020e0"/>
<path d="M275.85 204.21L277.53 201.13L274.17 201.13Z" fill="#e020e0"/>
<path d="M280.35 204.23L282.03 201.15L278.67 201.15Z" fill="#e020e0"/>
<path d="M284.86 204.49L286.54 201.41L283.18 201.41Z" fill="#e020e0"/>
<path d="M289.36 204.47L291.04 201.39L287.68 201.39Z" fill="#e020e0"/>
<path d="M293.87 204.60L295.55 201.52L292.19 201.52Z" fill="#e020e0"/>
<path d="M298.37 204.67L300.05 201.59L296.69 201.59Z" fill="#e020e0"/>
<path d="M302.88 204.80L304.56 201.72L301.20 201.72Z" fill="#e020e0"/>
<path d="M307.38 204.81L309.06 201.73L305.70 201.73Z" fill="#e020e0"/>
<path d="M311.89 204.80L313.57 201.72L310.21 201.72Z" fill="#e020e0"/>
<path d="M316.39 204.87L318.07 201.79L314.71 201.79Z" fill="#e020e0"/>
<path d="M320.90 204.89L322.58 201.81L319.22 201.81Z" fill="#e020e0"/>
<path d="M50.60 108.89L52.36 110.65L50.60 112.40L48.84 110.65Z" fill="#f39030"/>
<path d="M55.10 107.09L56.86 108.84L55.10 110.60L53.35 108.84Z" fill="#f39030"/>
<path d="M59.61 108.56L61.36 110.31L59.61 112.07L57.85 110.31Z" fill="#f39030"/>
<path d="M64.11 111.28L65.87 113.04L64.11 114.79L62.36 113.04Z" fill="#f39030"/>
<path d="M68.62 109.41L70.37 111.17L68.62 112.92L66.86 111.17Z" fill="#f39030"/>
<path d="M73.12 111.06L74.88 112.81L73.12 114.57L71.37 112.81Z" fill="#f39030"/>
<path d="M77.63 112.84L79.38 114.59L77.63 116.35L75.87 114.59Z" fill="#f39030"/>
<path d="M82.13 110.02L83.89 111.78L82.13 113.53L80.38 111.78Z" fill="#f39030"/>
<path d="M86.64 109.05L88.39 110.81L86.64 112.56L84.88 110.81Z" fill="#f39030"/>
<path d="M91.14 113.01L92.90 114.76L91.14 116.52L89.39 114.76Z" fill="#f39030"/>
<path d="M95.65 117.73L97.40 119.49L95.65 121.24L93.89 119.49Z" fill="#f39030"/>
<path d="M100.15 121.43L101.91 123.18L100.15 124.94L98.40 123.18Z" fill="#f39030"/>
<path d="M104.66 122.58L106.41 124.33L104.66 126.09L102.90 124.33Z" fill="#f39030"/>
<path d="M109.16 127.09L110.92 128.85L109.16 130.60L107.41 128.85Z" fill="#f39030"/>
<path d="M113.67 132.98L115.42 134.74L113.67 136.49L111.91 134.74Z" fill="#f39030"/>
<path d="M118.17 139.99L119.93 141.75L118.17 143.50L116.42 141.75Z" fill="#f39030"/>
<path d="M122.68 146.18L124.43 147.94L122.68 149.69L120.92 147.94Z" fill="#f39030"/>
<path d="M127.18 153.75L128.94 155.50L127.18 157.26L125.43 155.50Z" fill="#f39030"/>
<path d="M131.69 162.59L133.44 164.34L131.69 166.10L129.93 164.34Z" fill="#f39030"/>
<path d="M136.19 170.39L137.95 172.14L136.19 173.90L134.44 172.14Z" fill="#f39030"/>
<path d="M140.70 177.46L142.45 179.22L140.70 180.97L138.94 179.22Z" fill="#f39030"/>
<path d="M145.20 181.68L146.96 183.43L145.20 185.19L143.45 183.43Z" fill="#f39030"/>
<path d="M149.71 184.57L151.46 186.33L149.71 188.08L147.95 186.33Z" fill="#f39030"/>
<path d="M154.21 185.97L155.97 187.73L154.21 189.48L152.46 187.73Z" fill="#f39030"/>
<path d="M158.72 188.06L160.47 189.82L158.72 191.57L156.96 189.82Z" fill="#f39030"/>
<path d="M163.22 189.08L164.98 190.83L163.22 192.59L161.47 190.83Z" fill="#f39030"/>
<path d="M167.73 190.16L169.48 191.92L167.73 193.67L165.97 191.92Z" fill="#f39030"/>
<path d="M172.23 191.54L173.99 193.29L172.23 195.05L170.48 193.29Z" fill="#f39030"/>
<path d="M176.74 192.10L178.49 193.85L176.74 195.61L174.98 193.85Z" fill="#f39030"/>
<path d="M181.24 193.08L183.00 194.84L181.24 196.59L179.49 194.84Z" fill="#f39030"/>
<path d="M185.75 194.15L187.50 195.91L185.75 197.66L183.99 195.91Z" fill="#f39030"/>
<path d="M190.25 194.63L192.01 196.38L190.25 198.14L188.50 196.38Z" fill="#f39030"/>
<path d="M194.76 195.23L196.51 196.99L194.76 198.74L193.00 196.99Z" fill="#f39030"/>
<path d="M199.26 196.11L201.02 197.86L199.26 199.62L197.51 197.86Z" fill="#f39030"/>
<path d="M203.77 196.32L205.52 198.08L203.77 199.83L202.01 198.08Z" fill="#f39030"/>
<path d="M208.27 196.89L210.03 198.65L208.27 200.40L206.52 198.65Z" fill="#f39030"/>
<path d="M212.78 197.36L214.53 199.12L212.78 200.87L211.02 199.12Z" fill="#f39030"/>
<path d="M217.28 197.87L219.04 199.62L217.28 201.38L215.53 199.62Z" fill="#f39030"/>
<path d="M221.79 198.12L223.54 199.88L221.79 201.63L220.03 199.88Z" fill="#f39030"/>
<path d="M226.29 198.42L228.05 200.18L226.29 201.93L224.54 200.18Z" fill="#f39030"/>
<path d="M230.80 198.60L232.55 200.36L230.80 202.11L229.04 200.36Z" fill="#f39030"/>
<path d="M235.30 198.93L237.06 200.68L235.30 202.44L233.55 200.68Z" fill="#f39030"/>
<path d="M239.81 199.19L241.56 200.95L239.81 202.70L238.05 200.95Z" fill="#f39030"/>
<path d="M244.31 199.30L246.07 201.05L244.31 202.81L242.56 201.05Z" fill="#f39030"/>
<path d="M248.82 199.62L250.57 201.37L248.82 203.13L247.06 201.37Z" fill="#f39030"/>
<path d="M253.32 199.76L255.08 201.51L253.32 203.27L251.57 201.51Z" fill="#f39030"/>
<path d="M257.83 199.99L259.58 201.74L257.83 203.50L256.07 201.74Z" fill="#f39030"/>
<path d="M262.33 199.91L264.09 201.67L262.33 203.42L260.58 201.67Z" fill="#f39030"/>
<path d="M266.84 200.08L268.59 201.84L266.84 203.59L265.08 201.84Z" fill="#f39030"/>
<path d="M271.34 200.22L273.10 201.97L271.34 203.73L269.59 201.97Z" fill="#f39030"/>
<path d="M275.85 200.36L277.60 202.11L275.85 203.87L274.09 202.11Z" fill="#f39030"/>
<path d="M280.35 200.50L282.11 202.26L280.35 204.01L278.60 202.26Z" fill="#f39030"/>
<path d="M284.86 200.61L286.61 202.36L284.86 204.12L283.10 202.36Z" fill="#f39030"/>
<path d="M289.36 200.73L291.12 202.49L289.36 204.24L287.61 202.49Z" fill="#f39030"/>
<path d="M293.87 200.82L295.62 202.57L293.87 204.33L292.11 202.57Z" fill="#f39030"/>
<path d="M298.37 200.89L300.13 202.64L298.37 204.40L296.62 202.64Z" fill="#f39030"/>
<path d="M302.88 200.88L304.63 202.64L302.88 204.39L301.12 202.64Z" fill="#f39030"/>
<path d="M307.38 200.98L309.14 202.74L307.38 204.49L305.63 202.74Z" fill="#f39030"/>
<path d="M311.89 201.05L313.64 202.81L311.89 204.56L310.13 202.81Z" fill="#f39030"/>
<path d="M316.39 201.10L318.15 202.86L316.39 204.61L314.64 202.86Z" fill="#f39030"/>
<path d="M320.90 201.11L322.65 202.87L320.90 204.62L319.14 202.87Z" fill="#f39030"/>
<path d="M52.34 135.43L49.15 133.69L49.15 137.17Z" fill="#8030e0"/>
<path d="M56.84 136.81L53.65 135.07L53.65 138.55Z" fill="#8030e0"/>
<path d="M61.35 137.41L58.16 135.67L58.16 139.15Z" fill="#8030e0"/>
<path d="M65.85 138.04L62.66 136.30L62.66 139.78Z" fill="#8030e0"/>
<path d="M70.36 139.21L67.17 137.47L67.17 140.95Z" fill="#8030e0"/>
<path d="M74.86 138.35L71.67 136.61L71.67 140.09Z" fill="#8030e0"/>
<path d="M79.37 137.94L76.18 136.20L76.18 139.68Z" fill="#8030e0"/>
<path d="M83.87 140.61L80.68 138.87L80.68 142.35Z" fill="#8030e0"/>
<path d="M88.38 142.10L85.19 140.36L85.19 143.84Z" fill="#8030e0"/>
<path d="M92.88 144.38L89.69 142.64L89.69 146.12Z" fill="#8030e0"/>
<path d="M97.39 146.90L94.20 145.16L94.20 148.64Z" fill="#8030e0"/>
<path d="M101.89 151.63L98.70 149.89L98.70 153.37Z" fill="#8030e0"/>
<path d="M106.40 152.87L103.21 151.13L103.21 154.61Z" fill="#8030e0"/>
<path d="M110.90 156.06L107.71 154.32L107.71 157.80Z" fill="#8030e0"/>
<path d="M115.41 157.04L112.22 155.30L112.22 158.78Z" fill="#8030e0"/>
<path d="M119.91 163.52L116.72 161.78L116.72 165.26Z" fill="#8030e0"/>
<path d="M124.42 168.28L121.23 166.54L121.23 170.02Z" fill="#8030e0"/>
<path d="M128.92 173.13L125.73 171.39L125.73 174.87Z" fill="#8030e0"/>
<path d="M133.43 177.95L130.24 176.21L130.24 179.69Z" fill="#8030e0"/>
<path d="M137.93 182.52L134.74 180.78L134.74 184.26Z" fill="#8030e0"/>
<path d="M142.44 186.00L139.25 184.26L139.25 187.74Z" fill="#8030e0"/>
<path d="M146.94 189.05L143.75 187.31L143.75 190.79Z" fill="#8030e0"/>
<path d="M151.45 192.02L148.26 190.28L148.26 193.76Z" fill="#8030e0"/>
<path d="M155.95 193.63L152.76 191.89L152.76 195.37Z" fill="#8030e0"/>
<path d="M160.46 193.99L157.27 192.25L157.27 195.73Z" fill="#8030e0"/>
<path d="M164.96 194.36L161.77 192.62L161.77 196.10Z" fill="#8030e0"/>
<path d="M169.47 194.17L166.28 192.43L166.28 195.91Z" fill="#8030e0"/>
<path d="M173.97 194.36L170.78 192.62L170.78 196.10Z" fill="#8030e0"/>
<path d="M178.48 194.16L175.29 192.42L175.29 195.90Z" fill="#8030e0"/>
<path d="M182.98 194.73L179.79 192.99L179.79 196.47Z" fill="#8030e0"/>
<path d="M187.49 194.97L184.30 193.23L184.30 196.71Z" fill="#8030e0"/>
<path d="M191.99 194.80L188.80 193.06L188.80 196.54Z" fill="#8030e0"/>
<path d="M196.50 195.65L193.31 193.91L193.31 197.39Z" fill="#8030e0"/>
<path d="M201.00 195.74L197.81 194.00L197.81 197.48Z" fill="#8030e0"/>
<path d="M205.51 196.17L202.32 194.43L202.32 197.91Z" fill="#8030e0"/>
<path d="M210.01 196.89L206.82 195.15L206.82 198.63Z" fill="#8030e0"/>
<path d="M214.52 197.31L211.33 195.57L211.33 199.05Z" fill="#8030e0"/>
<path d="M219.02 197.51L215.83 195.77L215.83 199.25Z" fill="#8030e0"/>
<path d="M223.53 198.20L220.34 196.46L220.34 199.94Z" fill="#8030e0"/>
<path d="M228.03 198.60L224.84 196.86L224.84 200.34Z" fill="#8030e0"/>
<path d="M232.54 199.04L229.35 197.30L229.35 200.78Z" fill="#8030e0"/>
<path d="M237.04 199.18L233.85 197.44L233.85 200.92Z" fill="#8030e0"/>
<path d="M241.55 199.31L238.36 197.57L238.36 201.05Z" fill="#8030e0"/>
<path d="M246.05 199.66L242.86 197.92L242.86 201.40Z" fill="#8030e0"/>
<path d="M250.56 200.14L247.37 198.40L247.37 201.88Z" fill="#8030e0"/>
<path d="M255.06 200.36L251.87 198.62L251.87 202.10Z" fill="#8030e0"/>
<path d="M259.57 200.53L256.38 198.79L256.38 202.27Z" fill="#8030e0"/>
<path d="M264.07 200.65L260.88 198.91L260.88 202.39Z" fill="#8030e0"/>
<path d="M268.58 200.91L265.39 199.17L265.39 202.65Z" fill="#8030e0"/>
<path d="M273.08 201.07L269.89 199.33L269.89 202.81Z" fill="#8030e0"/>
<path d="M277.59 201.25L274.40 199.51L274.40 202.99Z" fill="#8030e0"/>
<path d="M282.09 201.49L278.90 199.75L278.90 203.23Z" fill="#8030e0"/>
<path d="M286.60 201.64L283.41 199.90L283.41 203.38Z" fill="#8030e0"/>
<path d="M291.10 201.79L287.91 200.05L287.91 203.53Z" fill="#8030e0"/>
<path d="M295.61 201.97L292.42 200.23L292.42 203.71Z" fill="#8030e0"/>
<path d="M300.11 202.06L296.92 200.32L296.92 203.80Z" fill="#8030e0"/>
<path d="M304.62 202.09L301.43 200.35L301.43 203.83Z" fill="#8030e0"/>
<path d="M309.12 202.30L305.93 200.56L305.93 204.04Z" fill="#8030e0"/>
<path d="M313.63 202.44L310.44 200.70L310.44 204.18Z" fill="#8030e0"/>
<path d="M318.13 202.65L314.94 200.91L314.94 204.39Z" fill="#8030e0"/>
<path d="M322.64 202.57L319.45 200.83L319.45 204.31Z" fill="#8030e0"/>
<path d="M48.86 126.96L52.05 125.22L52.05 128.70Z" fill="#1a1a7a"/>
<path d="M53.36 126.40L56.55 124.66L56.55 128.14Z" fill="#1a1a7a"/>
<path d="M57.87 124.02L61.06 122.28L61.06 125.76Z" fill="#1a1a7a"/>
<path d="M62.37 124.22L65.56 122.48L65.56 125.96Z" fill="#1a1a7a"/>
<path d="M66.88 125.23L70.07 123.49L70.07 126.97Z" fill="#1a1a7a"/>
<path d="M71.38 127.09L74.57 125.35L74.57 128.83Z" fill="#1a1a7a"/>
<path d="M75.89 126.04L79.08 124.30L79.08 127.78Z" fill="#1a1a7a"/>
<path d="M80.39 126.96L83.58 125.22L83.58 128.70Z" fill="#1a1a7a"/>
<path d="M84.90 126.42L88.09 124.68L88.09 128.16Z" fill="#1a1a7a"/>
<path d="M89.40 125.93L92.59 124.19L92.59 127.67Z" fill="#1a1a7a"/>
<path d="M93.91 129.38L97.10 127.64L97.10 131.12Z" fill="#1a1a7a"/>
<path d="M98.41 132.13L101.60 130.39L101.60 133.87Z" fill="#1a1a7a"/>
<path d="M102.92 134.74L106.11 133.00L106.11 136.48Z" fill="#1a1a7a"/>
<path d="M107.42 137.10L110.61 135.36L110.61 138.84Z" fill="#1a1a7a"/>
<path d="M111.93 143.35L115.12 141.61L115.12 145.09Z" fill="#1a1a7a"/>
<path d="M116.43 150.20L119.62 148.46L119.62 151.94Z" fill="#1a1a7a"/>
<path d="M120.94 157.80L124.13 156.06L124.13 159.54Z" fill="#1a1a7a"/>
<path d="M125.44 166.95L128.63 165.21L128.63 168.69Z" fill="#1a1a7a"/>
<path d="M129.95 171.55L133.14 169.81L133.14 173.29Z" fill="#1a1a7a"/>
<path d="M134.45 175.91L137.64 174.17L137.64 177.65Z" fill="#1a1a7a"/>
<path d="M138.96 180.01L142.15 178.27L142.15 181.75Z" fill="#1a1a7a"/>
<path d="M143.46 183.22L146.65 181.48L146.65 184.96Z" fill="#1a1a7a"/>
<path d="M147.97 185.43L151.16 183.69L151.16 187.17Z" fill="#1a1a7a"/>
<path d="M152.47 187.38L155.66 185.64L155.66 189.12Z" fill="#1a1a7a"/>
<path d="M156.98 188.25L160.17 186.51L160.17 189.99Z" fill="#1a1a7a"/>
<path d="M161.48 188.52L164.67 186.78L164.67 190.26Z" fill="#1a1a7a"/>
<path d="M165.99 189.00L169.18 187.26L169.18 190.74Z" fill="#1a1a7a"/>
<path d="M170.49 189.54L173.68 187.80L173.68 191.28Z" fill="#1a1a7a"/>
<path d="M175.00 189.75L178.19 188.01L178.19 191.49Z" fill="#1a1a7a"/>
<path d="M179.50 190.85L182.69 189.11L182.69 192.59Z" fill="#1a1a7a"/>
<path d="M184.01 191.63L187.20 189.89L187.20 193.37Z" fill="#1a1a7a"/>
<path d="M188.51 192.26L191.70 190.52L191.70 194.00Z" fill="#1a1a7a"/>
<path d="M193.02 193.53L196.21 191.79L196.21 195.27Z" fill="#1a1a7a"/>
<path d="M197.52 194.14L200.71 192.40L200.71 195.88Z" fill="#1a1a7a"/>
<path d="M202.03 194.73L205.22 192.99L205.22 196.47Z" fill="#1a1a7a"/>
<path d="M206.53 195.39L209.72 193.65L209.72 197.13Z" fill="#1a1a7a"/>
<path d="M211.04 196.11L214.23 194.37L214.23 197.85Z" fill="#1a1a7a"/>
<path d="M215.54 196.45L218.73 194.71L218.73 198.19Z" fill="#1a1a7a"/>
<path d="M220.05 197.00L223.24 195.26L223.24 198.74Z" fill="#1a1a7a"/>
<path d="M224.55 197.57L227.74 195.83L227.74 199.31Z" fill="#1a1a7a"/>
<path d="M229.06 197.92L232.25 196.18L232.25 199.66Z" fill="#1a1a7a"/>
<path d="M233.56 198.07L236.75 196.33L236.75 199.81Z" fill="#1a1a7a"/>
<path d="M238.07 198.43L241.26 196.69L241.26 200.17Z" fill="#1a1a7a"/>
<path d="M242.57 198.96L245.76 197.22L245.76 200.70Z" fill="#1a1a7a"/>
<path d="M247.08 198.91L250.27 197.17L250.27 200.65Z" fill="#1a1a7a"/>
<path d="M251.58 199.23L254.77 197.49L254.77 200.97Z" fill="#1a1a7a"/>
<path d="M256.09 199.39L259.28 197.65L259.28 201.13Z" fill="#1a1a7a"/>
<path d="M260.59 199.76L263.78 198.02L263.78 201.50Z" fill="#1a1a7a"/>
<path d="M265.10 199.98L268.29 198.24L268.29 201.72Z" fill="#1a1a7a"/>
<path d="M269.60 200.25L272.79 198.51L272.79 201.99Z" fill="#1a1a7a"/>
<path d="M274.11 200.17L277.30 198.43L277.30 201.91Z" fill="#1a1a7a"/>
<path d="M278.61 200.58L281.80 198.84L281.80 202.32Z" fill="#1a1a7a"/>
<path d="M283.12 200.64L286.31 198.90L286.31 202.38Z" fill="#1a1a7a"/>
<path d="M287.62 200.97L290.81 199.23L290.81 202.71Z" fill="#1a1a7a"/>
<path d="M292.13 201.08L295.32 199.34L295.32 202.82Z" fill="#1a1a7a"/>
<path d="M296.63 201.35L299.82 199.61L299.82 203.09Z" fill="#1a1a7a"/>
<path d="M301.14 201.40L304.33 199.66L304.33 203.14Z" fill="#1a1a7a"/>
<path d="M305.64 201.43L308.83 199.69L308.83 203.17Z" fill="#1a1a7a"/>
<path d="M310.15 201.67L313.34 199.93L313.34 203.41Z" fill="#1a1a7a"/>
<path d="M314.65 201.61L317.84 199.87L317.84 203.35Z" fill="#1a1a7a"/>
<path d="M319.16 201.72L322.35 199.98L322.35 203.46Z" fill="#1a1a7a"/>
<polygon points="52.12,156.91 50.60,157.79 49.08,156.91 49.08,155.15 50.60,154.28 52.12,155.15" fill="#e0207a"/>
<polygon points="56.62,156.31 55.10,157.19 53.59,156.31 53.59,154.55 55.10,153.68 56.62,154.55" fill="#e0207a"/>
<polygon points="61.13,156.31 59.61,157.19 58.09,156.31 58.09,154.56 59.61,153.68 61.13,154.56" fill="#e0207a"/>
<polygon points="65.63,155.97 64.11,156.84 62.60,155.97 62.60,154.21 64.11,153.33 65.63,154.21" fill="#e0207a"/>
<polygon points="70.14,156.77 68.62,157.65 67.10,156.77 67.10,155.01 68.62,154.14 70.14,155.01" fill="#e0207a"/>
<polygon points="74.64,157.58 73.12,158.46 71.61,157.58 71.61,155.83 73.12,154.95 74.64,155.83" fill="#e0207a"/>
<polygon points="79.15,157.84 77.63,158.72 76.11,157.84 76.11,156.09 77.63,155.21 79.15,156.09" fill="#e0207a"/>
<polygon points="83.65,159.81 82.13,160.69 80.62,159.81 80.62,158.06 82.13,157.18 83.65,158.06" fill="#e0207a"/>
<polygon points="88.16,161.66 86.64,162.54 85.12,161.66 85.12,159.91 86.64,159.03 88.16,159.91" fill="#e0207a"/>
<polygon points="92.66,162.07 91.14,162.94 89.63,162.07 89.63,160.31 91.14,159.43 92.66,160.31" fill="#e0207a"/>
<polygon points="97.17,162.59 95.65,163.47 94.13,162.59 94.13,160.84 95.65,159.96 97.17,160.84" fill="#e0207a"/>
<polygon points="101.67,165.50 100.15,166.37 98.64,165.50 98.64,163.74 100.15,162.86 101.67,163.74" fill="#e0207a"/>
<polygon points="106.18,165.63 104.66,166.51 103.14,165.63 103.14,163.88 104.66,163.00 106.18,163.88" fill="#e0207a"/>
<polygon points="110.68,168.80 109.16,169.67 107.65,168.80 107.65,167.04 109.16,166.16 110.68,167.04" fill="#e0207a"/>
<polygon points="115.19,171.97 113.67,172.84 112.15,171.97 112.15,170.21 113.67,169.33 115.19,170.21" fill="#e0207a"/>
<polygon points="119.69,174.90 118.17,175.78 116.66,174.90 116.66,173.14 118.17,172.27 119.69,173.14" fill="#e0207a"/>
<polygon points="124.20,181.12 122.68,182.00 121.16,181.12 121.16,179.37 122.68,178.49 124.20,179.37" fill="#e0207a"/>
<polygon points="128.70,183.45 127.18,184.33 125.67,183.45 125.67,181.70 127.18,180.82 128.70,181.70" fill="#e0207a"/>
<polygon points="133.21,188.05 131.69,188.93 130.17,188.05 130.17,186.30 131.69,185.42 133.21,186.30" fill="#e0207a"/>
<polygon points="137.71,190.93 136.19,191.81 134.68,190.93 134.68,189.18 136.19,188.30 137.71,189.18" fill="#e0207a"/>
<polygon points="142.22,193.46 140.70,194.33 139.18,193.46 139.18,191.70 140.70,190.82 142.22,191.70" fill="#e0207a"/>
<polygon points="146.72,195.19 145.20,196.07 143.69,195.19 143.69,193.44 145.20,192.56 146.72,193.44" fill="#e0207a"/>
<polygon points="151.23,196.39 149.71,197.26 148.19,196.39 148.19,194.63 149.71,193.75 151.23,194.63" fill="#e0207a"/>
<polygon points="155.73,198.07 154.21,198.95 152.70,198.07 152.70,196.31 154.21,195.44 155.73,196.31" fill="#e0207a"/>
<polygon points="160.24,199.06 158.72,199.94 157.20,199.06 157.20,197.30 158.72,196.43 160.24,197.30" fill="#e0207a"/>
<polygon points="164.74,200.94 163.22,201.82 161.71,200.94 161.71,199.18 163.22,198.31 164.74,199.18" fill="#e0207a"/>
<polygon points="169.25,202.56 167.73,203.43 166.21,202.56 166.21,200.80 167.73,199.92 169.25,200.80" fill="#e0207a"/>
<polygon points="173.75,203.60 172.23,204.48 170.72,203.60 170.72,201.85 172.23,200.97 173.75,201.85" fill="#e0207a"/>
<polygon points="178.26,204.82 176.74,205.69 175.22,204.82 175.22,203.06 176.74,202.18 178.26,203.06" fill="#e0207a"/>
<polygon points="182.76,205.95 181.24,206.83 179.73,205.95 179.73,204.20 181.24,203.32 182.76,204.20" fill="#e0207a"/>
<polygon points="187.27,206.68 185.75,207.55 184.23,206.68 184.23,204.92 185.75,204.04 187.27,204.92" fill="#e0207a"/>
<polygon points="191.77,206.94 190.25,207.82 188.74,206.94 188.74,205.19 190.25,204.31 191.77,205.19" fill="#e0207a"/>
<polygon points="196.28,207.18 194.76,208.06 193.24,207.18 193.24,205.43 194.76,204.55 196.28,205.43" fill="#e0207a"/>
<polygon points="200.78,207.38 199.26,208.25 197.75,207.38 197.75,205.62 199.26,204.74 200.78,205.62" fill="#e0207a"/>
<polygon points="205.29,207.52 203.77,208.40 202.25,207.52 202.25,205.77 203.77,204.89 205.29,205.77" fill="#e0207a"/>
<polygon points="209.79,207.63 208.27,208.51 206.76,207.63 206.76,205.87 208.27,205.00 209.79,205.87" fill="#e0207a"/>
<polygon points="214.30,207.72 212.78,208.60 211.26,207.72 211.26,205.97 212.78,205.09 214.30,205.97" fill="#e0207a"/>
<polygon points="218.80,207.78 217.28,208.66 215.77,207.78 215.77,206.03 217.28,205.15 218.80,206.03" fill="#e0207a"/>
<polygon points="223.31,207.78 221.79,208.66 220.27,207.78 220.27,206.02 221.79,205.15 223.31,206.02" fill="#e0207a"/>
<polygon points="227.81,207.81 226.29,208.68 224.78,207.81 224.78,206.05 226.29,205.17 227.81,206.05" fill="#e0207a"/>
<polygon points="232.32,207.83 230.80,208.71 229.28,207.83 229.28,206.08 230.80,205.20 232.32,206.08" fill="#e0207a"/>
<polygon points="236.82,207.84 235.30,208.72 233.79,207.84 233.79,206.09 235.30,205.21 236.82,206.09" fill="#e0207a"/>
<polygon points="241.33,207.88 239.81,208.75 238.29,207.88 238.29,206.12 239.81,205.24 241.33,206.12" fill="#e0207a"/>
<polygon points="245.83,207.87 244.31,208.75 242.80,207.87 242.80,206.12 244.31,205.24 245.83,206.12" fill="#e0207a"/>
<polygon points="250.34,207.88 248.82,208.76 247.30,207.88 247.30,206.12 248.82,205.25 250.34,206.12" fill="#e0207a"/>
<polygon points="254.84,207.90 253.32,208.78 251.81,207.90 251.81,206.14 253.32,205.27 254.84,206.14" fill="#e0207a"/>
<polygon points="259.35,207.88 257.83,208.76 256.31,207.88 256.31,206.13 257.83,205.25 259.35,206.13" fill="#e0207a"/>
<polygon points="263.85,207.90 262.33,208.77 260.82,207.90 260.82,206.14 262.33,205.26 263.85,206.14" fill="#e0207a"/>
<polygon points="268.36,207.88 266.84,208.75 265.32,207.88 265.32,206.12 266.84,205.24 268.36,206.12" fill="#e0207a"/>
<polygon points="272.86,207.87 271.34,208.75 269.83,207.87 269.83,206.12 271.34,205.24 272.86,206.12" fill="#e0207a"/>
<polygon points="277.37,207.86 275.85,208.74 274.33,207.86 274.33,206.11 275.85,205.23 277.37,206.11" fill="#e0207a"/>
<polygon points="281.87,207.91 280.35,208.78 278.84,207.91 278.84,206.15 280.35,205.27 281.87,206.15" fill="#e0207a"/>
<polygon points="286.38,207.87 284.86,208.75 283.34,207.87 283.34,206.12 284.86,205.24 286.38,206.12" fill="#e0207a"/>
<polygon points="290.88,207.87 289.36,208.75 287.85,207.87 287.85,206.12 289.36,205.24 290.88,206.12" fill="#e0207a"/>
<polygon points="295.39,207.86 293.87,208.74 292.35,207.86 292.35,206.11 293.87,205.23 295.39,206.11" fill="#e0207a"/>
<polygon points="299.89,207.85 298.37,208.73 296.86,207.85 296.86,206.10 298.37,205.22 299.89,206.10" fill="#e0207a"/>
<polygon points="304.40,207.84 302.88,208.72 301.36,207.84 301.36,206.09 302.88,205.21 304.40,206.09" fill="#e0207a"/>
<polygon points="308.90,207.85 307.38,208.73 305.87,207.85 305.87,206.09 307.38,205.22 308.90,206.09" fill="#e0207a"/>
<polygon points="313.41,207.80 311.89,208.68 310.37,207.80 310.37,206.04 311.89,205.17 313.41,206.04" fill="#e0207a"/>
<polygon points="317.91,207.77 316.39,208.65 314.88,207.77 314.88,206.02 316.39,205.14 317.91,206.02" fill="#e0207a"/>
<polygon points="322.42,207.76 320.90,208.64 319.38,207.76 319.38,206.00 320.90,205.13 322.42,206.00" fill="#e0207a"/>
<polygon points="50.60,166.85 51.16,168.11 52.54,168.26 51.51,169.18 51.80,170.54 50.60,169.85 49.40,170.54 49.69,169.18 48.66,168.26 50.04,168.11" fill="#eeec48"/>
<polygon points="55.10,165.26 55.67,166.52 57.05,166.67 56.02,167.60 56.30,168.95 55.10,168.26 53.91,168.95 54.19,167.60 53.16,166.67 54.54,166.52" fill="#eeec48"/>
<polygon points="59.61,165.26 60.17,166.52 61.55,166.67 60.52,167.59 60.81,168.95 59.61,168.26 58.41,168.95 58.70,167.59 57.67,166.67 59.05,166.52" fill="#eeec48"/>
<polygon points="64.11,166.72 64.68,167.98 66.06,168.13 65.03,169.06 65.31,170.41 64.11,169.72 62.92,170.41 63.20,169.06 62.17,168.13 63.55,167.98" fill="#eeec48"/>
<polygon points="68.62,167.19 69.18,168.46 70.56,168.60 69.53,169.53 69.82,170.88 68.62,170.19 67.42,170.88 67.71,169.53 66.68,168.60 68.06,168.46" fill="#eeec48"/>
<polygon points="73.12,166.61 73.69,167.88 75.07,168.02 74.04,168.95 74.32,170.30 73.12,169.61 71.93,170.30 72.21,168.95 71.18,168.02 72.56,167.88" fill="#eeec48"/>
<polygon points="77.63,165.59 78.19,166.85 79.57,167.00 78.54,167.92 78.83,169.28 77.63,168.59 76.43,169.28 76.72,167.92 75.69,167.00 77.07,166.85" fill="#eeec48"/>
<polygon points="82.13,169.12 82.70,170.38 84.08,170.53 83.05,171.46 83.33,172.81 82.13,172.12 80.94,172.81 81.22,171.46 80.19,170.53 81.57,170.38" fill="#eeec48"/>
<polygon points="86.64,167.12 87.20,168.38 88.58,168.53 87.55,169.45 87.84,170.81 86.64,170.12 85.44,170.81 85.73,169.45 84.70,168.53 86.08,168.38" fill="#eeec48"/>
<polygon points="91.14,169.18 91.71,170.44 93.09,170.59 92.06,171.51 92.34,172.87 91.14,172.18 89.95,172.87 90.23,171.51 89.20,170.59 90.58,170.44" fill="#eeec48"/>
<polygon points="95.65,169.08 96.21,170.34 97.59,170.49 96.56,171.42 96.85,172.77 95.65,172.08 94.45,172.77 94.74,171.42 93.71,170.49 95.09,170.34" fill="#eeec48"/>
<polygon points="100.15,172.11 100.72,173.37 102.10,173.52 101.07,174.45 101.35,175.80 100.15,175.11 98.96,175.80 99.24,174.45 98.21,173.52 99.59,173.37" fill="#eeec48"/>
<polygon points="104.66,173.74 105.22,175.00 106.60,175.15 105.57,176.07 105.86,177.43 104.66,176.74 103.46,177.43 103.75,176.07 102.72,175.15 104.10,175.00" fill="#eeec48"/>
<polygon points="109.16,177.27 109.73,178.53 111.11,178.68 110.08,179.61 110.36,180.96 109.16,180.27 107.97,180.96 108.25,179.61 107.22,178.68 108.60,178.53" fill="#eeec48"/>
<polygon points="113.67,180.22 114.23,181.49 115.61,181.63 114.58,182.56 114.87,183.91 113.67,183.22 112.47,183.91 112.76,182.56 111.73,181.63 113.11,181.49" fill="#eeec48"/>
<polygon points="118.17,181.83 118.74,183.09 120.12,183.24 119.09,184.17 119.37,185.52 118.17,184.83 116.98,185.52 117.26,184.17 116.23,183.24 117.61,183.09" fill="#eeec48"/>
<polygon points="122.68,185.29 123.24,186.56 124.62,186.70 123.59,187.63 123.88,188.98 122.68,188.29 121.48,188.98 121.77,187.63 120.74,186.70 122.12,186.56" fill="#eeec48"/>
<polygon points="127.18,188.71 127.75,189.98 129.13,190.12 128.10,191.05 128.38,192.41 127.18,191.71 125.99,192.41 126.27,191.05 125.24,190.12 126.62,189.98" fill="#eeec48"/>
<polygon points="131.69,191.62 132.25,192.88 133.63,193.03 132.60,193.95 132.89,195.31 131.69,194.62 130.49,195.31 130.78,193.95 129.75,193.03 131.13,192.88" fill="#eeec48"/>
<polygon points="136.19,193.94 136.76,195.21 138.14,195.35 137.11,196.28 137.39,197.63 136.19,196.94 135.00,197.63 135.28,196.28 134.25,195.35 135.63,195.21" fill="#eeec48"/>
<polygon points="140.70,194.83 141.26,196.10 142.64,196.24 141.61,197.17 141.90,198.52 140.70,197.83 139.50,198.52 139.79,197.17 138.76,196.24 140.14,196.10" fill="#eeec48"/>
<polygon points="145.20,195.43 145.77,196.70 147.15,196.84 146.12,197.77 146.40,199.13 145.20,198.43 144.01,199.13 144.29,197.77 143.26,196.84 144.64,196.70" fill="#eeec48"/>
<polygon points="149.71,196.26 150.27,197.52 151.65,197.67 150.62,198.59 150.91,199.95 149.71,199.26 148.51,199.95 148.80,198.59 147.77,197.67 149.15,197.52" fill="#eeec48"/>
<polygon points="154.21,197.32 154.78,198.59 156.16,198.73 155.13,199.66 155.41,201.01 154.21,200.32 153.02,201.01 153.30,199.66 152.27,198.73 153.65,198.59" fill="#eeec48"/>
<polygon points="158.72,198.33 159.28,199.60 160.66,199.74 159.63,200.67 159.92,202.02 158.72,201.33 157.52,202.02 157.81,200.67 156.78,199.74 158.16,199.60" fill="#eeec48"/>
<polygon points="163.22,199.32 163.79,200.58 165.17,200.73 164.14,201.66 164.42,203.01 163.22,202.32 162.03,203.01 162.31,201.66 161.28,200.73 162.66,200.58" fill="#eeec48"/>
<polygon points="167.73,200.14 168.29,201.41 169.67,201.55 168.64,202.48 168.93,203.83 167.73,203.14 166.53,203.83 166.82,202.48 165.79,201.55 167.17,201.41" fill="#eeec48"/>
<polygon points="172.23,200.58 172.80,201.85 174.18,201.99 173.15,202.92 173.43,204.27 172.23,203.58 171.04,204.27 171.32,202.92 170.29,201.99 171.67,201.85" fill="#eeec48"/>
<polygon points="176.74,201.05 177.30,202.31 178.68,202.46 177.65,203.39 177.94,204.74 176.74,204.05 175.54,204.74 175.83,203.39 174.80,202.46 176.18,202.31" fill="#eeec48"/>
<polygon points="181.24,201.61 181.81,202.88 183.19,203.02 182.16,203.95 182.44,205.30 181.24,204.61 180.05,205.30 180.33,203.95 179.30,203.02 180.68,202.88" fill="#eeec48"/>
<polygon points="185.75,201.94 186.31,203.21 187.69,203.35 186.66,204.28 186.95,205.63 185.75,204.94 184.55,205.63 184.84,204.28 183.81,203.35 185.19,203.21" fill="#eeec48"/>
<polygon points="190.25,202.10 190.82,203.36 192.20,203.51 191.17,204.43 191.45,205.79 190.25,205.10 189.06,205.79 189.34,204.43 188.31,203.51 189.69,203.36" fill="#eeec48"/>
<polygon points="194.76,202.28 195.32,203.54 196.70,203.69 195.67,204.62 195.96,205.97 194.76,205.28 193.56,205.97 193.85,204.62 192.82,203.69 194.20,203.54" fill="#eeec48"/>
<polygon points="199.26,202.42 199.83,203.69 201.21,203.83 200.18,204.76 200.46,206.11 199.26,205.42 198.07,206.11 198.35,204.76 197.32,203.83 198.70,203.69" fill="#eeec48"/>
<polygon points="203.77,202.51 204.33,203.77 205.71,203.92 204.68,204.85 204.97,206.20 203.77,205.51 202.57,206.20 202.86,204.85 201.83,203.92 203.21,203.77" fill="#eeec48"/>
<polygon points="208.27,202.64 208.84,203.91 210.22,204.05 209.19,204.98 209.47,206.33 208.27,205.64 207.08,206.33 207.36,204.98 206.33,204.05 207.71,203.91" fill="#eeec48"/>
<polygon points="212.78,202.67 213.34,203.93 214.72,204.08 213.69,205.01 213.98,206.36 212.78,205.67 211.58,206.36 211.87,205.01 210.84,204.08 212.22,203.93" fill="#eeec48"/>
<polygon points="217.28,202.77 217.85,204.03 219.23,204.18 218.20,205.10 218.48,206.46 217.28,205.77 216.09,206.46 216.37,205.10 215.34,204.18 216.72,204.03" fill="#eeec48"/>
<polygon points="221.79,202.82 222.35,204.08 223.73,204.23 222.70,205.16 222.99,206.51 221.79,205.82 220.59,206.51 220.88,205.16 219.85,204.23 221.23,204.08" fill="#eeec48"/>
<polygon points="226.29,202.89 226.86,204.15 228.24,204.30 227.21,205.23 227.49,206.58 226.29,205.89 225.10,206.58 225.38,205.23 224.35,204.30 225.73,204.15" fill="#eeec48"/>
<polygon points="230.80,202.96 231.36,204.22 232.74,204.37 231.71,205.29 232.00,206.65 230.80,205.96 229.60,206.65 229.89,205.29 228.86,204.37 230.24,204.22" fill="#eeec48"/>
<polygon points="235.30,203.01 235.87,204.27 237.25,204.42 236.22,205.35 236.50,206.70 235.30,206.01 234.11,206.70 234.39,205.35 233.36,204.42 234.74,204.27" fill="#eeec48"/>
<polygon points="239.81,203.03 240.37,204.29 241.75,204.44 240.72,205.37 241.01,206.72 239.81,206.03 238.61,206.72 238.90,205.37 237.87,204.44 239.25,204.29" fill="#eeec48"/>
<polygon points="244.31,203.08 244.88,204.34 246.26,204.49 245.23,205.41 245.51,206.77 244.31,206.08 243.12,206.77 243.40,205.41 242.37,204.49 243.75,204.34" fill="#eeec48"/>
<polygon points="248.82,203.09 249.38,204.36 250.76,204.50 249.73,205.43 250.02,206.78 248.82,206.09 247.62,206.78 247.91,205.43 246.88,204.50 248.26,204.36" fill="#eeec48"/>
<polygon points="253.32,203.13 253.89,204.40 255.27,204.54 254.24,205.47 254.52,206.82 253.32,206.13 252.13,206.82 252.41,205.47 251.38,204.54 252.76,204.40" fill="#eeec48"/>
<polygon points="257.83,203.20 258.39,204.46 259.77,204.61 258.74,205.53 259.03,206.89 257.83,206.20 256.63,206.89 256.92,205.53 255.89,204.61 257.27,204.46" fill="#eeec48"/>
<polygon points="262.33,203.20 262.90,204.46 264.28,204.61 263.25,205.53 263.53,206.89 262.33,206.20 261.14,206.89 261.42,205.53 260.39,204.61 261.77,204.46" fill="#eeec48"/>
<polygon points="266.84,203.26 267.40,204.52 268.78,204.67 267.75,205.60 268.04,206.95 266.84,206.26 265.64,206.95 265.93,205.60 264.90,204.67 266.28,204.52" fill="#eeec48"/>
<polygon points="271.34,203.27 271.91,204.54 273.29,204.68 272.26,205.61 272.54,206.96 271.34,206.27 270.15,206.96 270.43,205.61 269.40,204.68 270.78,204.54" fill="#eeec48"/>
<polygon points="275.85,203.30 276.41,204.56 277.79,204.71 276.76,205.63 277.05,206.99 275.85,206.30 274.65,206.99 274.94,205.63 273.91,204.71 275.29,204.56" fill="#eeec48"/>
<polygon points="280.35,203.36 280.92,204.62 282.30,204.77 281.27,205.70 281.55,207.05 280.35,206.36 279.16,207.05 279.44,205.70 278.41,204.77 279.79,204.62" fill="#eeec48"/>
<polygon points="284.86,203.34 285.42,204.61 286.80,204.75 285.77,205.68 286.06,207.03 284.86,206.34 283.66,207.03 283.95,205.68 282.92,204.75 284.30,204.61" fill="#eeec48"/>
<polygon points="289.36,203.37 289.93,204.63 291.31,204.78 290.28,205.71 290.56,207.06 289.36,206.37 288.17,207.06 288.45,205.71 287.42,204.78 288.80,204.63" fill="#eeec48"/>
<polygon points="293.87,203.40 294.43,204.66 295.81,204.81 294.78,205.74 295.07,207.09 293.87,206.40 292.67,207.09 292.96,205.74 291.93,204.81 293.31,204.66" fill="#eeec48"/>
<polygon points="298.37,203.43 298.94,204.69 300.32,204.84 299.29,205.76 299.57,207.12 298.37,206.43 297.18,207.12 297.46,205.76 296.43,204.84 297.81,204.69" fill="#eeec48"/>
<polygon points="302.88,203.45 303.44,204.71 304.82,204.86 303.79,205.78 304.08,207.14 302.88,206.45 301.68,207.14 301.97,205.78 300.94,204.86 302.32,204.71" fill="#eeec48"/>
<polygon points="307.38,203.48 307.95,204.74 309.33,204.89 308.30,205.81 308.58,207.17 307.38,206.48 306.19,207.17 306.47,205.81 305.44,204.89 306.82,204.74" fill="#eeec48"/>
<polygon points="311.89,203.48 312.45,204.74 313.83,204.89 312.80,205.82 313.09,207.17 311.89,206.48 310.69,207.17 310.98,205.82 309.95,204.89 311.33,204.74" fill="#eeec48"/>
<polygon points="316.39,203.50 316.96,204.76 318.34,204.91 317.31,205.84 317.59,207.19 316.39,206.50 315.20,207.19 315.48,205.84 314.45,204.91 315.83,204.76" fill="#eeec48"/>
<polygon points="320.90,203.50 321.46,204.76 322.84,204.91 321.81,205.84 322.10,207.19 320.90,206.50 319.70,207.19 319.99,205.84 318.96,204.91 320.34,204.76" fill="#eeec48"/>
<polygon points="50.60,172.20 52.14,173.32 51.55,175.13 49.65,175.13 49.06,173.32" fill="#7fe0e8"/>
<polygon points="55.10,171.26 56.65,172.38 56.06,174.19 54.15,174.19 53.56,172.38" fill="#7fe0e8"/>
<polygon points="59.61,171.40 61.15,172.52 60.56,174.33 58.66,174.33 58.07,172.52" fill="#7fe0e8"/>
<polygon points="64.11,171.72 65.66,172.84 65.07,174.65 63.16,174.65 62.57,172.84" fill="#7fe0e8"/>
<polygon points="68.62,172.10 70.16,173.22 69.57,175.03 67.67,175.03 67.08,173.22" fill="#7fe0e8"/>
<polygon points="73.12,171.71 74.67,172.83 74.08,174.64 72.17,174.64 71.58,172.83" fill="#7fe0e8"/>
<polygon points="77.63,173.49 79.17,174.61 78.58,176.42 76.68,176.42 76.09,174.61" fill="#7fe0e8"/>
<polygon points="82.13,172.55 83.68,173.67 83.09,175.48 81.18,175.48 80.59,173.67" fill="#7fe0e8"/>
<polygon points="86.64,173.24 88.18,174.35 87.59,176.17 85.69,176.17 85.10,174.35" fill="#7fe0e8"/>
<polygon points="91.14,174.18 92.69,175.30 92.10,177.11 90.19,177.11 89.60,175.30" fill="#7fe0e8"/>
<polygon points="95.65,175.40 97.19,176.52 96.60,178.33 94.70,178.33 94.11,176.52" fill="#7fe0e8"/>
<polygon points="100.15,177.44 101.70,178.56 101.11,180.37 99.20,180.37 98.61,178.56" fill="#7fe0e8"/>
<polygon points="104.66,178.86 106.20,179.97 105.61,181.79 103.71,181.79 103.12,179.97" fill="#7fe0e8"/>
<polygon points="109.16,180.78 110.71,181.90 110.12,183.71 108.21,183.71 107.62,181.90" fill="#7fe0e8"/>
<polygon points="113.67,184.50 115.21,185.62 114.62,187.43 112.72,187.43 112.13,185.62" fill="#7fe0e8"/>
<polygon points="118.17,187.33 119.72,188.45 119.13,190.26 117.22,190.26 116.63,188.45" fill="#7fe0e8"/>
<polygon points="122.68,190.44 124.22,191.56 123.63,193.37 121.73,193.37 121.14,191.56" fill="#7fe0e8"/>
<polygon points="127.18,192.39 128.73,193.51 128.14,195.32 126.23,195.32 125.64,193.51" fill="#7fe0e8"/>
<polygon points="131.69,194.56 133.23,195.68 132.64,197.49 130.74,197.49 130.15,195.68" fill="#7fe0e8"/>
<polygon points="136.19,196.39 137.74,197.51 137.15,199.32 135.24,199.32 134.65,197.51" fill="#7fe0e8"/>
<polygon points="140.70,197.87 142.24,198.99 141.65,200.80 139.75,200.80 139.16,198.99" fill="#7fe0e8"/>
<polygon points="145.20,199.08 146.75,200.20 146.16,202.02 144.25,202.02 143.66,200.20" fill="#7fe0e8"/>
<polygon points="149.71,199.65 151.25,200.77 150.66,202.58 148.76,202.58 148.17,200.77" fill="#7fe0e8"/>
<polygon points="154.21,200.48 155.76,201.60 155.17,203.41 153.26,203.41 152.67,201.60" fill="#7fe0e8"/>
<polygon points="158.72,201.12 160.26,202.24 159.67,204.05 157.77,204.05 157.18,202.24" fill="#7fe0e8"/>
<polygon points="163.22,201.46 164.77,202.58 164.18,204.39 162.27,204.39 161.68,202.58" fill="#7fe0e8"/>
<polygon points="167.73,202.03 169.27,203.15 168.68,204.96 166.78,204.96 166.19,203.15" fill="#7fe0e8"/>
<polygon points="172.23,202.39 173.78,203.51 173.19,205.32 171.28,205.32 170.69,203.51" fill="#7fe0e8"/>
<polygon points="176.74,202.75 178.28,203.87 177.69,205.68 175.79,205.68 175.20,203.87" fill="#7fe0e8"/>
<polygon points="181.24,203.06 182.79,204.18 182.20,205.99 180.29,205.99 179.70,204.18" fill="#7fe0e8"/>
<polygon points="185.75,203.32 187.29,204.44 186.70,206.25 184.80,206.25 184.21,204.44" fill="#7fe0e8"/>
<polygon points="190.25,203.36 191.80,204.48 191.21,206.29 189.30,206.29 188.71,204.48" fill="#7fe0e8"/>
<polygon points="194.76,203.37 196.30,204.49 195.71,206.30 193.81,206.30 193.22,204.49" fill="#7fe0e8"/>
<polygon points="199.26,203.41 200.81,204.53 200.22,206.34 198.31,206.34 197.72,204.53" fill="#7fe0e8"/>
<polygon points="203.77,203.48 205.31,204.60 204.72,206.41 202.82,206.41 202.23,204.60" fill="#7fe0e8"/>
<polygon points="208.27,203.51 209.82,204.62 209.23,206.44 207.32,206.44 206.73,204.62" fill="#7fe0e8"/>
<polygon points="212.78,203.56 214.32,204.67 213.73,206.49 211.83,206.49 211.24,204.67" fill="#7fe0e8"/>
<polygon points="217.28,203.57 218.83,204.69 218.24,206.50 216.33,206.50 215.74,204.69" fill="#7fe0e8"/>
<polygon points="221.79,203.58 223.33,204.69 222.74,206.51 220.84,206.51 220.25,204.69" fill="#7fe0e8"/>
<polygon points="226.29,203.61 227.84,204.73 227.25,206.54 225.34,206.54 224.75,204.73" fill="#7fe0e8"/>
<polygon points="230.80,203.65 232.34,204.77 231.75,206.58 229.85,206.58 229.26,204.77" fill="#7fe0e8"/>
<polygon points="235.30,203.66 236.85,204.78 236.26,206.59 234.35,206.59 233.76,204.78" fill="#7fe0e8"/>
<polygon points="239.81,203.73 241.35,204.85 240.76,206.66 238.86,206.66 238.27,204.85" fill="#7fe0e8"/>
<polygon points="244.31,203.75 245.86,204.87 245.27,206.68 243.36,206.68 242.77,204.87" fill="#7fe0e8"/>
<polygon points="248.82,203.76 250.36,204.88 249.77,206.69 247.87,206.69 247.28,204.88" fill="#7fe0e8"/>
<polygon points="253.32,203.79 254.87,204.91 254.28,206.72 252.37,206.72 251.78,204.91" fill="#7fe0e8"/>
<polygon points="257.83,203.80 259.37,204.92 258.78,206.73 256.88,206.73 256.29,204.92" fill="#7fe0e8"/>
<polygon points="262.33,203.83 263.88,204.95 263.29,206.76 261.38,206.76 260.79,204.95" fill="#7fe0e8"/>
<polygon points="266.84,203.87 268.38,204.99 267.79,206.80 265.89,206.80 265.30,204.99" fill="#7fe0e8"/>
<polygon points="271.34,203.88 272.89,205.00 272.30,206.81 270.39,206.81 269.80,205.00" fill="#7fe0e8"/>
<polygon points="275.85,203.92 277.39,205.04 276.80,206.85 274.90,206.85 274.31,205.04" fill="#7fe0e8"/>
<polygon points="280.35,203.95 281.90,205.07 281.31,206.88 279.40,206.88 278.81,205.07" fill="#7fe0e8"/>
<polygon points="284.86,203.93 286.40,205.05 285.81,206.86 283.91,206.86 283.32,205.05" fill="#7fe0e8"/>
<polygon points="289.36,203.96 290.91,205.08 290.32,206.89 288.41,206.89 287.82,205.08" fill="#7fe0e8"/>
<polygon points="293.87,203.97 295.41,205.09 294.82,206.90 292.92,206.90 292.33,205.09" fill="#7fe0e8"/>
<polygon points="298.37,204.02 299.92,205.13 299.33,206.95 297.42,206.95 296.83,205.13" fill="#7fe0e8"/>
<polygon points="302.88,204.01 304.42,205.13 303.83,206.94 301.93,206.94 301.34,205.13" fill="#7fe0e8"/>
<polygon points="307.38,204.02 308.93,205.14 308.34,206.95 306.43,206.95 305.84,205.14" fill="#7fe0e8"/>
<polygon points="311.89,204.04 313.43,205.16 312.84,206.97 310.94,206.97 310.35,205.16" fill="#7fe0e8"/>
<polygon points="316.39,204.07 317.94,205.19 317.35,207.00 315.44,207.00 314.85,205.19" fill="#7fe0e8"/>
<polygon points="320.90,204.05 322.44,205.17 321.85,206.98 319.95,206.98 319.36,205.17" fill="#7fe0e8"/>
</g>
<path d="M50.6 10.0H320.9V208.8" fill="none" stroke="#333" stroke-width="1.8"/>
<path d="M50.6 208.8H320.9" fill="none" stroke="#555" stroke-width="2"/>
<path d="M50.6 9.1V209.8" fill="none" stroke="#111" stroke-width="1.4"/>
<line x1="50.6" y1="206.40" x2="55.9" y2="206.40" stroke="#1a1a1a" stroke-width="1.2"/>
<text x="44.8" y="210.20" font-family="Liberation Serif" font-weight="bold" font-size="11" text-anchor="end">0</text>
<line x1="50.6" y1="194.12" x2="53.1" y2="194.12" stroke="#1a1a1a" stroke-width="1.2"/>
<line x1="50.6" y1="181.85" x2="55.9" y2="181.85" stroke="#1a1a1a" stroke-width="1.2"/>
<text x="44.8" y="185.65" font-family="Liberation Serif" font-weight="bold" font-size="11" text-anchor="end">2</text>
<line x1="50.6" y1="169.57" x2="53.1" y2="169.57" stroke="#1a1a1a" stroke-width="1.2"/>
<line x1="50.6" y1="157.30" x2="55.9" y2="157.30" stroke="#1a1a1a" stroke-width="1.2"/>
<text x="44.8" y="161.10" font-family="Liberation Serif" font-weight="bold" font-size="11" text-anchor="end">4</text>
<line x1="50.6" y1="145.03" x2="53.1" y2="145.03" stroke="#1a1a1a" stroke-width="1.2"/>
<line x1="50.6" y1="132.75" x2="55.9" y2="132.75" stroke="#1a1a1a" stroke-width="1.2"/>
<text x="44.8" y="136.55" font-family="Liberation Serif" font-weight="bold" font-size="11" text-anchor="end">6</text>
<line x1="50.6" y1="120.48" x2="53.1" y2="120.48" stroke="#1a1a1a" stroke-width="1.2"/>
<line x1="50.6" y1="108.20" x2="55.9" y2="108.20" stroke="#1a1a1a" stroke-width="1.2"/>
<text x="44.8" y="112.00" font-family="Liberation Serif" font-weight="bold" font-size="11" text-anchor="end">8</text>
<line x1="50.6" y1="95.92" x2="53.1" y2="95.92" stroke="#1a1a1a" stroke-width="1.2"/>
<line x1="50.6" y1="83.65" x2="55.9" y2="83.65" stroke="#1a1a1a" stroke-width="1.2"/>
<text x="44.8" y="87.45" font-family="Liberation Serif" font-weight="bold" font-size="11" text-anchor="end">10</text>
<line x1="50.6" y1="71.38" x2="53.1" y2="71.38" stroke="#1a1a1a" stroke-width="1.2"/>
<line x1="50.6" y1="59.10" x2="55.9" y2="59.10" stroke="#1a1a1a" stroke-width="1.2"/>
<text x="44.8" y="62.90" font-family="Liberation Serif" font-weight="bold" font-size="11" text-anchor="end">12</text>
<line x1="50.6" y1="46.82" x2="53.1" y2="46.82" stroke="#1a1a1a" stroke-width="1.2"/>
<line x1="50.6" y1="34.55" x2="55.9" y2="34.55" stroke="#1a1a1a" stroke-width="1.2"/>
<text x="44.8" y="38.35" font-family="Liberation Serif" font-weight="bold" font-size="11" text-anchor="end">14</text>
<line x1="50.6" y1="22.28" x2="53.1" y2="22.28" stroke="#1a1a1a" stroke-width="1.2"/>
<line x1="50.6" y1="10.00" x2="55.9" y2="10.00" stroke="#1a1a1a" stroke-width="1.2"/>
<text x="44.8" y="13.80" font-family="Liberation Serif" font-weight="bold" font-size="11" text-anchor="end">16</text>
<line x1="50.60" y1="208.8" x2="50.60" y2="204.3" stroke="#1a1a1a" stroke-width="1.2"/>
<text x="50.60" y="223.8" font-family="Liberation Serif" font-weight="bold" font-size="11.5" text-anchor="middle">-6</text>
<line x1="73.12" y1="208.8" x2="73.12" y2="206.3" stroke="#1a1a1a" stroke-width="1.2"/>
<line x1="95.65" y1="208.8" x2="95.65" y2="204.3" stroke="#1a1a1a" stroke-width="1.2"/>
<text x="95.65" y="223.8" font-family="Liberation Serif" font-weight="bold" font-size="11.5" text-anchor="middle">-5</text>
<line x1="118.17" y1="208.8" x2="118.17" y2="206.3" stroke="#1a1a1a" stroke-width="1.2"/>
<line x1="140.70" y1="208.8" x2="140.70" y2="204.3" stroke="#1a1a1a" stroke-width="1.2"/>
<text x="140.70" y="223.8" font-family="Liberation Serif" font-weight="bold" font-size="11.5" text-anchor="middle">-4</text>
<line x1="163.22" y1="208.8" x2="163.22" y2="206.3" stroke="#1a1a1a" stroke-width="1.2"/>
<line x1="185.75" y1="208.8" x2="185.75" y2="204.3" stroke="#1a1a1a" stroke-width="1.2"/>
<text x="185.75" y="223.8" font-family="Liberation Serif" font-weight="bold" font-size="11.5" text-anchor="middle">-3</text>
<line x1="208.27" y1="208.8" x2="208.27" y2="206.3" stroke="#1a1a1a" stroke-width="1.2"/>
<line x1="230.80" y1="208.8" x2="230.80" y2="204.3" stroke="#1a1a1a" stroke-width="1.2"/>
<text x="230.80" y="223.8" font-family="Liberation Serif" font-weight="bold" font-size="11.5" text-anchor="middle">-2</text>
<line x1="253.32" y1="208.8" x2="253.32" y2="206.3" stroke="#1a1a1a" stroke-width="1.2"/>
<line x1="275.85" y1="208.8" x2="275.85" y2="204.3" stroke="#1a1a1a" stroke-width="1.2"/>
<text x="275.85" y="223.8" font-family="Liberation Serif" font-weight="bold" font-size="11.5" text-anchor="middle">-1</text>
<line x1="298.37" y1="208.8" x2="298.37" y2="206.3" stroke="#1a1a1a" stroke-width="1.2"/>
<line x1="320.90" y1="208.8" x2="320.90" y2="204.3" stroke="#1a1a1a" stroke-width="1.2"/>
<text x="320.90" y="223.8" font-family="Liberation Serif" font-weight="bold" font-size="11.5" text-anchor="middle">0</text>
<text x="0.8" y="19.8" font-family="Liberation Serif" font-weight="bold" font-size="22.6">(a)</text>
<text transform="translate(16.9,177.7) rotate(-90)" font-family="Liberation Serif" font-weight="bold" font-size="14" textLength="120" lengthAdjust="spacingAndGlyphs">Responsivity (kV/W)</text>
<text x="128.2" y="251.6" font-family="Liberation Serif" font-weight="bold" font-size="13.6" letter-spacing="0.15">Gate Voltage V<tspan font-size="7.6" dx="-0.6" dy="3.9">g</tspan><tspan dx="-0.4" dy="-3.9"> (V)</tspan></text>
<text x="174.7" y="35.5" font-family="Liberation Serif" font-weight="bold" font-size="10.7">Exp:</text>
<text x="249.6" y="35.5" font-family="Liberation Serif" font-weight="bold" font-size="10.7">Theory:</text>
<rect x="185.20" y="44.40" width="2.20" height="2.20" fill="#000000"/>
<text x="200.8" y="49.20" font-family="Liberation Serif" font-weight="bold" font-size="11">T=30<tspan font-weight="normal" font-size="7" dx="0.9" dy="-3">°</tspan><tspan font-weight="normal" dx="-1.6" dy="3">C</tspan></text>
<line x1="247.8" y1="45.50" x2="271.4" y2="45.50" stroke="#000000" stroke-width="1.35" stroke-dasharray="4.1 2.3"/>
<text x="275.7" y="49.20" font-family="Liberation Serif" font-weight="bold" font-size="11">T=30<tspan font-weight="normal" font-size="7" dx="0.9" dy="-3">°</tspan><tspan font-weight="normal" dx="-1.6" dy="3">C</tspan></text>
<circle cx="186.30" cy="58.92" r="1.10" fill="#e0101e"/>
<text x="200.8" y="62.62" font-family="Liberation Serif" font-weight="bold" font-size="11">T=42<tspan font-weight="normal" font-size="7" dx="0.9" dy="-3">°</tspan><tspan font-weight="normal" dx="-1.6" dy="3">C</tspan></text>
<line x1="247.8" y1="58.92" x2="271.4" y2="58.92" stroke="#e0101e" stroke-width="1.35" stroke-dasharray="4.1 2.3"/>
<text x="275.7" y="62.62" font-family="Liberation Serif" font-weight="bold" font-size="11">T=42<tspan font-weight="normal" font-size="7" dx="0.9" dy="-3">°</tspan><tspan font-weight="normal" dx="-1.6" dy="3">C</tspan></text>
<path d="M186.30 71.02L187.62 73.44L184.98 73.44Z" fill="#2a20b0"/>
<text x="200.8" y="76.04" font-family="Liberation Serif" font-weight="bold" font-size="11">T=58<tspan font-weight="normal" font-size="7" dx="0.9" dy="-3">°</tspan><tspan font-weight="normal" dx="-1.6" dy="3">C</tspan></text>
<line x1="247.8" y1="72.34" x2="271.4" y2="72.34" stroke="#2a20b0" stroke-width="1.35" stroke-dasharray="4.1 2.3"/>
<text x="275.7" y="76.04" font-family="Liberation Serif" font-weight="bold" font-size="11">T=58<tspan font-weight="normal" font-size="7" dx="0.9" dy="-3">°</tspan><tspan font-weight="normal" dx="-1.6" dy="3">C</tspan></text>
<path d="M186.30 87.08L187.62 84.66L184.98 84.66Z" fill="#e020e0"/>
<text x="200.8" y="89.46" font-family="Liberation Serif" font-weight="bold" font-size="11">T=74<tspan font-weight="normal" font-size="7" dx="0.9" dy="-3">°</tspan><tspan font-weight="normal" dx="-1.6" dy="3">C</tspan></text>
<line x1="247.8" y1="85.76" x2="271.4" y2="85.76" stroke="#e020e0" stroke-width="1.35" stroke-dasharray="4.1 2.3"/>
<text x="275.7" y="89.46" font-family="Liberation Serif" font-weight="bold" font-size="11">T=74<tspan font-weight="normal" font-size="7" dx="0.9" dy="-3">°</tspan><tspan font-weight="normal" dx="-1.6" dy="3">C</tspan></text>
<path d="M186.30 97.75L187.73 99.18L186.30 100.61L184.87 99.18Z" fill="#f39030"/>
<text x="200.8" y="102.88" font-family="Liberation Serif" font-weight="bold" font-size="11">T=90<tspan font-weight="normal" font-size="7" dx="0.9" dy="-3">°</tspan><tspan font-weight="normal" dx="-1.6" dy="3">C</tspan></text>
<line x1="247.8" y1="99.18" x2="271.4" y2="99.18" stroke="#f39030" stroke-width="1.35" stroke-dasharray="4.1 2.3"/>
<text x="275.7" y="102.88" font-family="Liberation Serif" font-weight="bold" font-size="11">T=90<tspan font-weight="normal" font-size="7" dx="0.9" dy="-3">°</tspan><tspan font-weight="normal" dx="-1.6" dy="3">C</tspan></text>
<path d="M184.98 112.60L187.40 111.28L187.40 113.92Z" fill="#1a1a7a"/>
<text x="200.8" y="116.30" font-family="Liberation Serif" font-weight="bold" font-size="11">T=105<tspan font-weight="normal" font-size="7" dx="0.9" dy="-3">°</tspan><tspan font-weight="normal" dx="-1.6" dy="3">C</tspan></text>
<line x1="247.8" y1="112.60" x2="271.4" y2="112.60" stroke="#1a1a7a" stroke-width="1.35" stroke-dasharray="4.1 2.3"/>
<text x="275.7" y="116.30" font-family="Liberation Serif" font-weight="bold" font-size="11">T=105<tspan font-weight="normal" font-size="7" dx="0.9" dy="-3">°</tspan><tspan font-weight="normal" dx="-1.6" dy="3">C</tspan></text>
<path d="M187.62 126.02L185.20 124.70L185.20 127.34Z" fill="#8030e0"/>
<text x="200.8" y="129.72" font-family="Liberation Serif" font-weight="bold" font-size="11">T=120<tspan font-weight="normal" font-size="7" dx="0.9" dy="-3">°</tspan><tspan font-weight="normal" dx="-1.6" dy="3">C</tspan></text>
<line x1="247.8" y1="126.02" x2="271.4" y2="126.02" stroke="#8030e0" stroke-width="1.35" stroke-dasharray="4.1 2.3"/>
<text x="275.7" y="129.72" font-family="Liberation Serif" font-weight="bold" font-size="11">T=120<tspan font-weight="normal" font-size="7" dx="0.9" dy="-3">°</tspan><tspan font-weight="normal" dx="-1.6" dy="3">C</tspan></text>
<polygon points="187.59,140.18 186.30,140.93 185.01,140.18 185.01,138.70 186.30,137.95 187.59,138.70" fill="#e0207a"/>
<text x="200.8" y="143.14" font-family="Liberation Serif" font-weight="bold" font-size="11">T=140<tspan font-weight="normal" font-size="7" dx="0.9" dy="-3">°</tspan><tspan font-weight="normal" dx="-1.6" dy="3">C</tspan></text>
<line x1="247.8" y1="139.44" x2="271.4" y2="139.44" stroke="#e0207a" stroke-width="1.35" stroke-dasharray="4.1 2.3"/>
<text x="275.7" y="143.14" font-family="Liberation Serif" font-weight="bold" font-size="11">T=140<tspan font-weight="normal" font-size="7" dx="0.9" dy="-3">°</tspan><tspan font-weight="normal" dx="-1.6" dy="3">C</tspan></text>
<polygon points="186.30,150.99 186.82,152.15 188.08,152.28 187.14,153.13 187.40,154.37 186.30,153.74 185.20,154.37 185.46,153.13 184.52,152.28 185.78,152.15" fill="#eeec48"/>
<text x="200.8" y="156.56" font-family="Liberation Serif" font-weight="bold" font-size="11">T=170<tspan font-weight="normal" font-size="7" dx="0.9" dy="-3">°</tspan><tspan font-weight="normal" dx="-1.6" dy="3">C</tspan></text>
<line x1="247.8" y1="152.86" x2="271.4" y2="152.86" stroke="#eeec48" stroke-width="1.35" stroke-dasharray="4.1 2.3"/>
<text x="275.7" y="156.56" font-family="Liberation Serif" font-weight="bold" font-size="11">T=170<tspan font-weight="normal" font-size="7" dx="0.9" dy="-3">°</tspan><tspan font-weight="normal" dx="-1.6" dy="3">C</tspan></text>
<polygon points="186.30,164.79 187.71,165.82 187.17,167.48 185.43,167.48 184.89,165.82" fill="#7fe0e8"/>
<text x="200.8" y="169.98" font-family="Liberation Serif" font-weight="bold" font-size="11">T=200<tspan font-weight="normal" font-size="7" dx="0.9" dy="-3">°</tspan><tspan font-weight="normal" dx="-1.6" dy="3">C</tspan></text>
<line x1="247.8" y1="166.28" x2="271.4" y2="166.28" stroke="#7fe0e8" stroke-width="1.35" stroke-dasharray="4.1 2.3"/>
<text x="275.7" y="169.98" font-family="Liberation Serif" font-weight="bold" font-size="11">T=200<tspan font-weight="normal" font-size="7" dx="0.9" dy="-3">°</tspan><tspan font-weight="normal" dx="-1.6" dy="3">C</tspan></text>
<rect x="387.4" y="2.1" width="287.20" height="211.20" fill="none" stroke="#1a1a1a" stroke-width="1.4"/>
<line x1="387.4" y1="200.10" x2="392.4" y2="200.10" stroke="#1a1a1a" stroke-width="1.2"/>
<text x="381.2" y="204.00" font-family="Liberation Serif" font-weight="bold" font-size="11.5" text-anchor="end">2</text>
<line x1="387.4" y1="186.90" x2="389.9" y2="186.90" stroke="#1a1a1a" stroke-width="1.2"/>
<line x1="387.4" y1="173.70" x2="392.4" y2="173.70" stroke="#1a1a1a" stroke-width="1.2"/>
<text x="381.2" y="177.60" font-family="Liberation Serif" font-weight="bold" font-size="11.5" text-anchor="end">4</text>
<line x1="387.4" y1="160.50" x2="389.9" y2="160.50" stroke="#1a1a1a" stroke-width="1.2"/>
<line x1="387.4" y1="147.30" x2="392.4" y2="147.30" stroke="#1a1a1a" stroke-width="1.2"/>
<text x="381.2" y="151.20" font-family="Liberation Serif" font-weight="bold" font-size="11.5" text-anchor="end">6</text>
<line x1="387.4" y1="134.10" x2="389.9" y2="134.10" stroke="#1a1a1a" stroke-width="1.2"/>
<line x1="387.4" y1="120.90" x2="392.4" y2="120.90" stroke="#1a1a1a" stroke-width="1.2"/>
<text x="381.2" y="124.80" font-family="Liberation Serif" font-weight="bold" font-size="11.5" text-anchor="end">8</text>
<line x1="387.4" y1="107.70" x2="389.9" y2="107.70" stroke="#1a1a1a" stroke-width="1.2"/>
<line x1="387.4" y1="94.50" x2="392.4" y2="94.50" stroke="#1a1a1a" stroke-width="1.2"/>
<text x="381.2" y="98.40" font-family="Liberation Serif" font-weight="bold" font-size="11.5" text-anchor="end">10</text>
<line x1="387.4" y1="81.30" x2="389.9" y2="81.30" stroke="#1a1a1a" stroke-width="1.2"/>
<line x1="387.4" y1="68.10" x2="392.4" y2="68.10" stroke="#1a1a1a" stroke-width="1.2"/>
<text x="381.2" y="72.00" font-family="Liberation Serif" font-weight="bold" font-size="11.5" text-anchor="end">12</text>
<line x1="387.4" y1="54.90" x2="389.9" y2="54.90" stroke="#1a1a1a" stroke-width="1.2"/>
<line x1="387.4" y1="41.70" x2="392.4" y2="41.70" stroke="#1a1a1a" stroke-width="1.2"/>
<text x="381.2" y="45.60" font-family="Liberation Serif" font-weight="bold" font-size="11.5" text-anchor="end">14</text>
<line x1="387.4" y1="28.50" x2="389.9" y2="28.50" stroke="#1a1a1a" stroke-width="1.2"/>
<line x1="387.4" y1="15.30" x2="392.4" y2="15.30" stroke="#1a1a1a" stroke-width="1.2"/>
<text x="381.2" y="19.20" font-family="Liberation Serif" font-weight="bold" font-size="11.5" text-anchor="end">16</text>
<line x1="401.08" y1="213.3" x2="401.08" y2="208.3" stroke="#1a1a1a" stroke-width="1.2"/>
<line x1="414.75" y1="213.3" x2="414.75" y2="210.8" stroke="#1a1a1a" stroke-width="1.2"/>
<line x1="428.43" y1="213.3" x2="428.43" y2="208.3" stroke="#1a1a1a" stroke-width="1.2"/>
<line x1="442.10" y1="213.3" x2="442.10" y2="210.8" stroke="#1a1a1a" stroke-width="1.2"/>
<line x1="455.78" y1="213.3" x2="455.78" y2="208.3" stroke="#1a1a1a" stroke-width="1.2"/>
<line x1="469.46" y1="213.3" x2="469.46" y2="210.8" stroke="#1a1a1a" stroke-width="1.2"/>
<line x1="483.13" y1="213.3" x2="483.13" y2="208.3" stroke="#1a1a1a" stroke-width="1.2"/>
<line x1="496.81" y1="213.3" x2="496.81" y2="210.8" stroke="#1a1a1a" stroke-width="1.2"/>
<line x1="510.49" y1="213.3" x2="510.49" y2="208.3" stroke="#1a1a1a" stroke-width="1.2"/>
<line x1="524.16" y1="213.3" x2="524.16" y2="210.8" stroke="#1a1a1a" stroke-width="1.2"/>
<line x1="537.84" y1="213.3" x2="537.84" y2="208.3" stroke="#1a1a1a" stroke-width="1.2"/>
<line x1="551.51" y1="213.3" x2="551.51" y2="210.8" stroke="#1a1a1a" stroke-width="1.2"/>
<line x1="565.19" y1="213.3" x2="565.19" y2="208.3" stroke="#1a1a1a" stroke-width="1.2"/>
<line x1="578.87" y1="213.3" x2="578.87" y2="210.8" stroke="#1a1a1a" stroke-width="1.2"/>
<line x1="592.54" y1="213.3" x2="592.54" y2="208.3" stroke="#1a1a1a" stroke-width="1.2"/>
<line x1="606.22" y1="213.3" x2="606.22" y2="210.8" stroke="#1a1a1a" stroke-width="1.2"/>
<line x1="619.90" y1="213.3" x2="619.90" y2="208.3" stroke="#1a1a1a" stroke-width="1.2"/>
<line x1="633.57" y1="213.3" x2="633.57" y2="210.8" stroke="#1a1a1a" stroke-width="1.2"/>
<line x1="647.25" y1="213.3" x2="647.25" y2="208.3" stroke="#1a1a1a" stroke-width="1.2"/>
<line x1="660.92" y1="213.3" x2="660.92" y2="210.8" stroke="#1a1a1a" stroke-width="1.2"/>
<text x="401.08" y="229.3" font-family="Liberation Serif" font-weight="bold" font-size="11.5" text-anchor="middle">20</text>
<text x="428.43" y="229.3" font-family="Liberation Serif" font-weight="bold" font-size="11.5" text-anchor="middle">40</text>
<text x="455.78" y="229.3" font-family="Liberation Serif" font-weight="bold" font-size="11.5" text-anchor="middle">60</text>
<text x="483.13" y="229.3" font-family="Liberation Serif" font-weight="bold" font-size="11.5" text-anchor="middle">80</text>
<text x="510.49" y="229.3" font-family="Liberation Serif" font-weight="bold" font-size="11.5" text-anchor="middle">100</text>
<text x="537.84" y="229.3" font-family="Liberation Serif" font-weight="bold" font-size="11.5" text-anchor="middle">120</text>
<text x="565.19" y="229.3" font-family="Liberation Serif" font-weight="bold" font-size="11.5" text-anchor="middle">140</text>
<text x="592.54" y="229.3" font-family="Liberation Serif" font-weight="bold" font-size="11.5" text-anchor="middle">160</text>
<text x="619.90" y="229.3" font-family="Liberation Serif" font-weight="bold" font-size="11.5" text-anchor="middle">180</text>
<text x="647.25" y="229.3" font-family="Liberation Serif" font-weight="bold" font-size="11.5" text-anchor="middle">200</text>
<text x="674.60" y="229.3" font-family="Liberation Serif" font-weight="bold" font-size="11.5" text-anchor="middle">220</text>
<text x="338.6" y="19.8" font-family="Liberation Serif" font-weight="bold" font-size="22">(b)</text>
<text transform="translate(358.2,180) rotate(-90)" font-family="Liberation Serif" font-weight="bold" font-size="14" textLength="127" lengthAdjust="spacingAndGlyphs">Responsivity (kV/W)</text>
<text x="477.6" y="253" font-family="Liberation Serif" font-weight="bold" font-size="13.2" letter-spacing="0.62">Temperature <tspan font-weight="normal" font-size="15.5" dy="1.2">(</tspan><tspan font-weight="normal" font-size="9" dx="0.7" dy="-5.2">°</tspan><tspan font-weight="normal" font-size="15" dx="-2.6" dy="4">C</tspan><tspan font-weight="normal" font-size="15.5" dx="-1.2">)</tspan></text>
<polyline points="414.75,21.11 415.90,22.53 417.02,23.93 418.13,25.32 419.22,26.70 420.30,28.06 421.35,29.41 422.40,30.74 423.42,32.06 424.43,33.37 425.43,34.66 426.41,35.94 427.37,37.20 428.32,38.46 429.25,39.70 430.18,40.93 431.08,42.14 431.98,43.35 432.86,44.54 433.73,45.72 434.58,46.89 435.42,48.05 436.26,49.20 437.07,50.33 437.88,51.46 438.68,52.57 439.46,53.68 440.24,54.77 441.00,55.86 441.76,56.94 442.50,58.00 443.23,59.06 443.96,60.11 444.68,61.15 445.38,62.18 446.08,63.20 446.77,64.21 447.46,65.22 448.13,66.22 448.80,67.21 449.46,68.19 450.12,69.17 450.76,70.14 451.40,71.10 452.04,72.06 452.67,73.01 453.29,73.95 453.91,74.88 454.53,75.81 455.13,76.73 455.74,77.65 456.34,78.55 456.93,79.45 457.52,80.34 458.10,81.23 458.68,82.10 459.26,82.97 459.83,83.83 460.39,84.68 460.96,85.53 461.52,86.36 462.07,87.19 462.62,88.01 463.17,88.82 463.72,89.62 464.26,90.41 464.80,91.20 465.34,91.97 465.88,92.74 466.41,93.49 466.94,94.24 467.47,94.98 467.99,95.71 468.52,96.43 469.04,97.14 469.56,97.84 470.08,98.53 470.60,99.21 471.11,99.88 471.63,100.54 472.14,101.19 472.66,101.83 473.17,102.46 473.68,103.07 474.20,103.68 474.71,104.28 475.22,104.87 475.73,105.44 476.24,106.01 476.76,106.56 477.27,107.11 477.78,107.64 478.29,108.17 478.81,108.69 479.32,109.20 479.83,109.70 480.34,110.19 480.85,110.68 481.36,111.16 481.87,111.63 482.38,112.09 482.89,112.55 483.40,113.00 483.91,113.44 484.42,113.88 484.93,114.32 485.44,114.75 485.95,115.17 486.46,115.60 486.96,116.01 487.47,116.42 487.98,116.83 488.48,117.24 488.99,117.64 489.50,118.04 490.00,118.44 490.51,118.84 491.01,119.23 491.51,119.63 492.02,120.02 492.52,120.41 493.02,120.80 493.52,121.19 494.02,121.58 494.52,121.97 495.02,122.37 495.52,122.76 496.01,123.15 496.51,123.55 497.01,123.95 497.50,124.35 498.00,124.75 498.49,125.15 498.98,125.56 499.48,125.96 499.97,126.37 500.46,126.78 500.95,127.18 501.44,127.59 501.93,128.00 502.42,128.41 502.91,128.83 503.39,129.24 503.88,129.65 504.37,130.06 504.85,130.47 505.34,130.88 505.83,131.29 506.31,131.70 506.80,132.11 507.28,132.52 507.76,132.93 508.25,133.33 508.73,133.74 509.21,134.14 509.70,134.54 510.18,134.94 510.66,135.34 511.14,135.74 511.62,136.13 512.11,136.53 512.59,136.92 513.07,137.30 513.55,137.69 514.03,138.07 514.51,138.45 514.99,138.83 515.47,139.20 515.95,139.57 516.43,139.94 516.91,140.30 517.39,140.66 517.87,141.02 518.35,141.37 518.83,141.72 519.31,142.07 519.80,142.41 520.28,142.75 520.76,143.09 521.24,143.42 521.73,143.75 522.21,144.08 522.70,144.41 523.18,144.74 523.67,145.06 524.16,145.38 524.65,145.70 525.14,146.02 525.63,146.34 526.12,146.66 526.62,146.98 527.12,147.29 527.62,147.61 528.12,147.92 528.62,148.24 529.12,148.56 529.63,148.87 530.14,149.19 530.65,149.50 531.17,149.82 531.68,150.14 532.20,150.46 532.72,150.78 533.25,151.10 533.77,151.42 534.30,151.75 534.84,152.08 535.37,152.40 535.91,152.73 536.45,153.07 537.00,153.40 537.55,153.74 538.10,154.08 538.66,154.43 539.22,154.78 539.78,155.13 540.35,155.48 540.92,155.84 541.50,156.20 542.08,156.56 542.67,156.93 543.27,157.30 543.87,157.67 544.48,158.05 545.09,158.43 545.71,158.81 546.34,159.20 546.98,159.59 547.63,159.98 548.28,160.37 548.95,160.77 549.62,161.18 550.31,161.58 551.00,161.99 551.70,162.40 552.42,162.81 553.15,163.23 553.89,163.65 554.64,164.08 555.40,164.51 556.17,164.94 556.96,165.37 557.77,165.81 558.58,166.25 559.41,166.69 560.25,167.13 561.11,167.58 561.99,168.04 562.88,168.49 563.78,168.95 564.70,169.41 565.64,169.87 566.60,170.34 567.57,170.81 568.56,171.29 569.57,171.76 570.59,172.24 571.64,172.73 572.70,173.21 573.79,173.70 574.89,174.19 576.02,174.68 577.18,175.17 578.36,175.67 579.56,176.16 580.79,176.65 582.06,177.15 583.35,177.64 584.67,178.13 586.02,178.62 587.41,179.11 588.83,179.60 590.29,180.08 591.79,180.56 593.32,181.04 594.89,181.51 596.50,181.98 598.15,182.45 599.85,182.91 601.59,183.36 603.37,183.81 605.20,184.25 607.07,184.69 609.00,185.12 610.97,185.54 612.99,185.95 615.07,186.36 617.20,186.76 619.38,187.14 621.61,187.52 623.91,187.89 626.26,188.25 628.66,188.60 631.13,188.94 633.66,189.27 636.25,189.59 638.90,189.89 641.62,190.18 644.40,190.46 647.25,190.73" fill="none" stroke="#000" stroke-width="1.7"/>
<rect x="412.55" y="18.91" width="4.4" height="4.4" fill="#ee1c24"/>
<rect x="428.96" y="39.24" width="4.4" height="4.4" fill="#ee1c24"/>
<rect x="450.85" y="70.65" width="4.4" height="4.4" fill="#ee1c24"/>
<rect x="472.73" y="105.63" width="4.4" height="4.4" fill="#ee1c24"/>
<rect x="494.61" y="120.81" width="4.4" height="4.4" fill="#ee1c24"/>
<rect x="515.12" y="139.56" width="4.4" height="4.4" fill="#ee1c24"/>
<rect x="535.64" y="151.44" width="4.4" height="4.4" fill="#ee1c24"/>
<rect x="562.99" y="169.26" width="4.4" height="4.4" fill="#ee1c24"/>
<rect x="604.02" y="184.83" width="4.4" height="4.4" fill="#ee1c24"/>
<rect x="645.05" y="188.53" width="4.4" height="4.4" fill="#ee1c24"/>
</svg>
</body></html>
